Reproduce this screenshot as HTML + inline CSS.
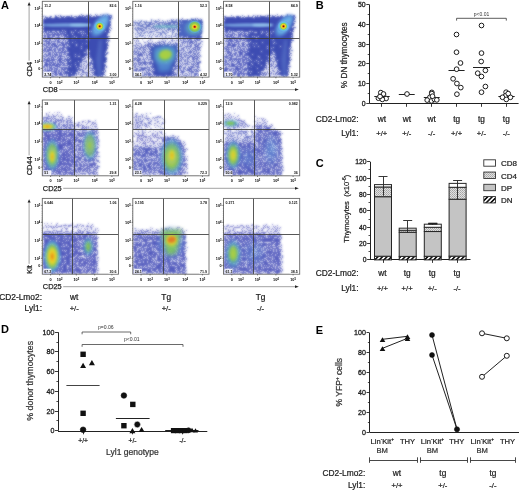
<!DOCTYPE html>
<html><head><meta charset="utf-8"><style>
html,body{margin:0;padding:0;background:#fff;}
svg{display:block;font-family:"Liberation Sans", sans-serif;will-change:transform;}
</style></head><body>
<svg width="520" height="490" viewBox="0 0 520 490">
<defs>
<filter id="bl0_3" x="-50%" y="-50%" width="200%" height="200%"><feGaussianBlur stdDeviation="0.3"/></filter><filter id="bl0_4" x="-50%" y="-50%" width="200%" height="200%"><feGaussianBlur stdDeviation="0.4"/></filter><filter id="bl0_6" x="-50%" y="-50%" width="200%" height="200%"><feGaussianBlur stdDeviation="0.6"/></filter><filter id="bl0_8" x="-50%" y="-50%" width="200%" height="200%"><feGaussianBlur stdDeviation="0.8"/></filter><filter id="bl1" x="-50%" y="-50%" width="200%" height="200%"><feGaussianBlur stdDeviation="1"/></filter><filter id="bl1_2" x="-50%" y="-50%" width="200%" height="200%"><feGaussianBlur stdDeviation="1.2"/></filter><filter id="bl1_5" x="-50%" y="-50%" width="200%" height="200%"><feGaussianBlur stdDeviation="1.5"/></filter><filter id="bl2" x="-50%" y="-50%" width="200%" height="200%"><feGaussianBlur stdDeviation="2"/></filter><filter id="bl2_5" x="-50%" y="-50%" width="200%" height="200%"><feGaussianBlur stdDeviation="2.5"/></filter><filter id="bl3" x="-50%" y="-50%" width="200%" height="200%"><feGaussianBlur stdDeviation="3"/></filter><filter id="bl4" x="-50%" y="-50%" width="200%" height="200%"><feGaussianBlur stdDeviation="4"/></filter><radialGradient id="g_hot"><stop offset="0" stop-color="#4a0c06" stop-opacity="1"/><stop offset="0.1" stop-color="#b83012" stop-opacity="1"/><stop offset="0.22" stop-color="#eab01c" stop-opacity="1"/><stop offset="0.32" stop-color="#f0d628" stop-opacity="1"/><stop offset="0.46" stop-color="#9ccc48" stop-opacity="1"/><stop offset="0.62" stop-color="#62c8d8" stop-opacity="1"/><stop offset="0.82" stop-color="#6aa8e8" stop-opacity="0.7"/><stop offset="1" stop-color="#5a80d8" stop-opacity="0"/></radialGradient><radialGradient id="g_hot2"><stop offset="0" stop-color="#7a1408" stop-opacity="1"/><stop offset="0.1" stop-color="#d8401a" stop-opacity="1"/><stop offset="0.22" stop-color="#f0c020" stop-opacity="1"/><stop offset="0.36" stop-color="#c8d830" stop-opacity="1"/><stop offset="0.55" stop-color="#7cc458" stop-opacity="1"/><stop offset="0.78" stop-color="#5ab0d8" stop-opacity="0.8"/><stop offset="1" stop-color="#5a80d0" stop-opacity="0"/></radialGradient><radialGradient id="g_hotg"><stop offset="0" stop-color="#6a1008" stop-opacity="1"/><stop offset="0.12" stop-color="#d04018" stop-opacity="1"/><stop offset="0.22" stop-color="#f0c020" stop-opacity="1"/><stop offset="0.32" stop-color="#d8d830" stop-opacity="1"/><stop offset="0.42" stop-color="#a0cc48" stop-opacity="1"/><stop offset="0.62" stop-color="#80c458" stop-opacity="1"/><stop offset="0.8" stop-color="#5ab0d8" stop-opacity="0.8"/><stop offset="1" stop-color="#5a80d0" stop-opacity="0"/></radialGradient><radialGradient id="g_org"><stop offset="0" stop-color="#e07a1a" stop-opacity="1"/><stop offset="0.18" stop-color="#eeb820" stop-opacity="1"/><stop offset="0.36" stop-color="#e0d830" stop-opacity="1"/><stop offset="0.55" stop-color="#8cc850" stop-opacity="0.95"/><stop offset="0.78" stop-color="#5ab8d8" stop-opacity="0.7"/><stop offset="1" stop-color="#5a80d0" stop-opacity="0"/></radialGradient><radialGradient id="g_yel"><stop offset="0" stop-color="#e2c82c" stop-opacity="1"/><stop offset="0.25" stop-color="#c4d43c" stop-opacity="1"/><stop offset="0.5" stop-color="#7cc060" stop-opacity="0.95"/><stop offset="0.75" stop-color="#5aa8d0" stop-opacity="0.65"/><stop offset="1" stop-color="#5a80d0" stop-opacity="0"/></radialGradient><radialGradient id="g_grn"><stop offset="0" stop-color="#98cc4a" stop-opacity="1"/><stop offset="0.3" stop-color="#70c060" stop-opacity="0.95"/><stop offset="0.6" stop-color="#5aacc8" stop-opacity="0.7"/><stop offset="1" stop-color="#5a80d0" stop-opacity="0"/></radialGradient><radialGradient id="g_cyan"><stop offset="0" stop-color="#8ce0f6" stop-opacity="1"/><stop offset="0.45" stop-color="#72c8f0" stop-opacity="0.95"/><stop offset="0.75" stop-color="#5e9ce0" stop-opacity="0.6"/><stop offset="1" stop-color="#5a78d4" stop-opacity="0"/></radialGradient><radialGradient id="g_lcyan"><stop offset="0" stop-color="#70c8f0" stop-opacity="0.9"/><stop offset="0.6" stop-color="#6aa0e0" stop-opacity="0.6"/><stop offset="1" stop-color="#5a78d4" stop-opacity="0"/></radialGradient><radialGradient id="g_cov"><stop offset="0" stop-color="#ffffff" stop-opacity="1"/><stop offset="0.3" stop-color="#ffffff" stop-opacity="0.92"/><stop offset="0.55" stop-color="#ffffff" stop-opacity="0.72"/><stop offset="0.75" stop-color="#ffffff" stop-opacity="0.45"/><stop offset="0.9" stop-color="#ffffff" stop-opacity="0.18"/><stop offset="1" stop-color="#ffffff" stop-opacity="0"/></radialGradient><clipPath id="clip00"><rect x="42.3" y="1.3" width="76.2" height="75.8"/></clipPath><filter id="spk0" filterUnits="userSpaceOnUse" x="42.3" y="1.3" width="76.2" height="75.8" color-interpolation-filters="sRGB">
<feTurbulence type="fractalNoise" baseFrequency="0.8" numOctaves="2" seed="3" result="noise"/>
<feColorMatrix in="noise" type="matrix" values="0 0 0 0 0  0 0 0 0 0  0 0 0 0 0  1 0 0 0 0" result="nA"/>
<feComponentTransfer in="SourceAlpha" result="sa"><feFuncA type="table" tableValues="0 0.345 0.400 0.439 0.475 0.502 0.525 0.561 0.600 0.655 0.92"/></feComponentTransfer>
<feComposite in="sa" in2="nA" operator="arithmetic" k1="0" k2="1" k3="-1" k4="0" result="d"/>
<feComponentTransfer in="d" result="m"><feFuncA type="linear" slope="40" intercept="0"/></feComponentTransfer>
<feColorMatrix in="SourceGraphic" type="matrix" values="1 0 0 0 0  0 1 0 0 0  0 0 1 0 0  0 0 0 0 1" result="op"/>
<feComposite in="op" in2="m" operator="in" result="dots"/>
<feGaussianBlur in="dots" stdDeviation="0.8" result="bd"/>
<feComposite in="dots" in2="bd" operator="arithmetic" k1="0" k2="0.15" k3="0.85" k4="0"/>
</filter><clipPath id="clip01"><rect x="132.8" y="1.3" width="76.2" height="75.8"/></clipPath><linearGradient id="lg1" gradientUnits="userSpaceOnUse" x1="132.8" y1="0" x2="178.7" y2="0"><stop offset="0" stop-color="#5062bc" stop-opacity="0.5"/><stop offset="1" stop-color="#5062bc" stop-opacity="0.8"/></linearGradient><linearGradient id="lg2" gradientUnits="userSpaceOnUse" x1="178.7" y1="0" x2="200" y2="0"><stop offset="0" stop-color="#4a56ba" stop-opacity="0.45"/><stop offset="1" stop-color="#4a56ba" stop-opacity="0.7"/></linearGradient><radialGradient id="cv1"><stop offset="0" stop-color="#4a56ba" stop-opacity="0.700"/><stop offset="0.3" stop-color="#4a56ba" stop-opacity="0.644"/><stop offset="0.55" stop-color="#4a56ba" stop-opacity="0.504"/><stop offset="0.75" stop-color="#4a56ba" stop-opacity="0.315"/><stop offset="0.9" stop-color="#4a56ba" stop-opacity="0.126"/><stop offset="1" stop-color="#4a56ba" stop-opacity="0.000"/></radialGradient><filter id="spk1" filterUnits="userSpaceOnUse" x="132.8" y="1.3" width="76.2" height="75.8" color-interpolation-filters="sRGB">
<feTurbulence type="fractalNoise" baseFrequency="0.8" numOctaves="2" seed="10" result="noise"/>
<feColorMatrix in="noise" type="matrix" values="0 0 0 0 0  0 0 0 0 0  0 0 0 0 0  1 0 0 0 0" result="nA"/>
<feComponentTransfer in="SourceAlpha" result="sa"><feFuncA type="table" tableValues="0 0.345 0.400 0.439 0.475 0.502 0.525 0.561 0.600 0.655 0.92"/></feComponentTransfer>
<feComposite in="sa" in2="nA" operator="arithmetic" k1="0" k2="1" k3="-1" k4="0" result="d"/>
<feComponentTransfer in="d" result="m"><feFuncA type="linear" slope="40" intercept="0"/></feComponentTransfer>
<feColorMatrix in="SourceGraphic" type="matrix" values="1 0 0 0 0  0 1 0 0 0  0 0 1 0 0  0 0 0 0 1" result="op"/>
<feComposite in="op" in2="m" operator="in" result="dots"/>
<feGaussianBlur in="dots" stdDeviation="0.8" result="bd"/>
<feComposite in="dots" in2="bd" operator="arithmetic" k1="0" k2="0.15" k3="0.85" k4="0"/>
</filter><clipPath id="clip02"><rect x="223.5" y="1.3" width="76.2" height="75.8"/></clipPath><filter id="spk2" filterUnits="userSpaceOnUse" x="223.5" y="1.3" width="76.2" height="75.8" color-interpolation-filters="sRGB">
<feTurbulence type="fractalNoise" baseFrequency="0.8" numOctaves="2" seed="17" result="noise"/>
<feColorMatrix in="noise" type="matrix" values="0 0 0 0 0  0 0 0 0 0  0 0 0 0 0  1 0 0 0 0" result="nA"/>
<feComponentTransfer in="SourceAlpha" result="sa"><feFuncA type="table" tableValues="0 0.345 0.400 0.439 0.475 0.502 0.525 0.561 0.600 0.655 0.92"/></feComponentTransfer>
<feComposite in="sa" in2="nA" operator="arithmetic" k1="0" k2="1" k3="-1" k4="0" result="d"/>
<feComponentTransfer in="d" result="m"><feFuncA type="linear" slope="40" intercept="0"/></feComponentTransfer>
<feColorMatrix in="SourceGraphic" type="matrix" values="1 0 0 0 0  0 1 0 0 0  0 0 1 0 0  0 0 0 0 1" result="op"/>
<feComposite in="op" in2="m" operator="in" result="dots"/>
<feGaussianBlur in="dots" stdDeviation="0.8" result="bd"/>
<feComposite in="dots" in2="bd" operator="arithmetic" k1="0" k2="0.15" k3="0.85" k4="0"/>
</filter><clipPath id="clip10"><rect x="42.3" y="100.0" width="76.2" height="75.8"/></clipPath><linearGradient id="lg3" gradientUnits="userSpaceOnUse" x1="0" y1="113" x2="0" y2="129"><stop offset="0" stop-color="#545cbe" stop-opacity="0.35"/><stop offset="1" stop-color="#545cbe" stop-opacity="0.7"/></linearGradient><filter id="spk3" filterUnits="userSpaceOnUse" x="42.3" y="100.0" width="76.2" height="75.8" color-interpolation-filters="sRGB">
<feTurbulence type="fractalNoise" baseFrequency="0.8" numOctaves="2" seed="24" result="noise"/>
<feColorMatrix in="noise" type="matrix" values="0 0 0 0 0  0 0 0 0 0  0 0 0 0 0  1 0 0 0 0" result="nA"/>
<feComponentTransfer in="SourceAlpha" result="sa"><feFuncA type="table" tableValues="0 0.345 0.400 0.439 0.475 0.502 0.525 0.561 0.600 0.655 0.92"/></feComponentTransfer>
<feComposite in="sa" in2="nA" operator="arithmetic" k1="0" k2="1" k3="-1" k4="0" result="d"/>
<feComponentTransfer in="d" result="m"><feFuncA type="linear" slope="40" intercept="0"/></feComponentTransfer>
<feColorMatrix in="SourceGraphic" type="matrix" values="1 0 0 0 0  0 1 0 0 0  0 0 1 0 0  0 0 0 0 1" result="op"/>
<feComposite in="op" in2="m" operator="in" result="dots"/>
<feGaussianBlur in="dots" stdDeviation="0.8" result="bd"/>
<feComposite in="dots" in2="bd" operator="arithmetic" k1="0" k2="0.15" k3="0.85" k4="0"/>
</filter><clipPath id="clip11"><rect x="132.8" y="100.0" width="76.2" height="75.8"/></clipPath><linearGradient id="lg4" gradientUnits="userSpaceOnUse" x1="132.8" y1="0" x2="168" y2="0"><stop offset="0" stop-color="#545cbe" stop-opacity="0.55"/><stop offset="1" stop-color="#545cbe" stop-opacity="0.2"/></linearGradient><filter id="spk4" filterUnits="userSpaceOnUse" x="132.8" y="100.0" width="76.2" height="75.8" color-interpolation-filters="sRGB">
<feTurbulence type="fractalNoise" baseFrequency="0.8" numOctaves="2" seed="31" result="noise"/>
<feColorMatrix in="noise" type="matrix" values="0 0 0 0 0  0 0 0 0 0  0 0 0 0 0  1 0 0 0 0" result="nA"/>
<feComponentTransfer in="SourceAlpha" result="sa"><feFuncA type="table" tableValues="0 0.345 0.400 0.439 0.475 0.502 0.525 0.561 0.600 0.655 0.92"/></feComponentTransfer>
<feComposite in="sa" in2="nA" operator="arithmetic" k1="0" k2="1" k3="-1" k4="0" result="d"/>
<feComponentTransfer in="d" result="m"><feFuncA type="linear" slope="40" intercept="0"/></feComponentTransfer>
<feColorMatrix in="SourceGraphic" type="matrix" values="1 0 0 0 0  0 1 0 0 0  0 0 1 0 0  0 0 0 0 1" result="op"/>
<feComposite in="op" in2="m" operator="in" result="dots"/>
<feGaussianBlur in="dots" stdDeviation="0.8" result="bd"/>
<feComposite in="dots" in2="bd" operator="arithmetic" k1="0" k2="0.15" k3="0.85" k4="0"/>
</filter><clipPath id="clip12"><rect x="223.5" y="100.0" width="76.2" height="75.8"/></clipPath><linearGradient id="lg5" gradientUnits="userSpaceOnUse" x1="0" y1="113" x2="0" y2="128"><stop offset="0" stop-color="#545cbe" stop-opacity="0.3"/><stop offset="1" stop-color="#545cbe" stop-opacity="0.6"/></linearGradient><filter id="spk5" filterUnits="userSpaceOnUse" x="223.5" y="100.0" width="76.2" height="75.8" color-interpolation-filters="sRGB">
<feTurbulence type="fractalNoise" baseFrequency="0.8" numOctaves="2" seed="38" result="noise"/>
<feColorMatrix in="noise" type="matrix" values="0 0 0 0 0  0 0 0 0 0  0 0 0 0 0  1 0 0 0 0" result="nA"/>
<feComponentTransfer in="SourceAlpha" result="sa"><feFuncA type="table" tableValues="0 0.345 0.400 0.439 0.475 0.502 0.525 0.561 0.600 0.655 0.92"/></feComponentTransfer>
<feComposite in="sa" in2="nA" operator="arithmetic" k1="0" k2="1" k3="-1" k4="0" result="d"/>
<feComponentTransfer in="d" result="m"><feFuncA type="linear" slope="40" intercept="0"/></feComponentTransfer>
<feColorMatrix in="SourceGraphic" type="matrix" values="1 0 0 0 0  0 1 0 0 0  0 0 1 0 0  0 0 0 0 1" result="op"/>
<feComposite in="op" in2="m" operator="in" result="dots"/>
<feGaussianBlur in="dots" stdDeviation="0.8" result="bd"/>
<feComposite in="dots" in2="bd" operator="arithmetic" k1="0" k2="0.15" k3="0.85" k4="0"/>
</filter><clipPath id="clip20"><rect x="42.3" y="198.4" width="76.2" height="75.8"/></clipPath><filter id="spk6" filterUnits="userSpaceOnUse" x="42.3" y="198.4" width="76.2" height="75.8" color-interpolation-filters="sRGB">
<feTurbulence type="fractalNoise" baseFrequency="0.8" numOctaves="2" seed="45" result="noise"/>
<feColorMatrix in="noise" type="matrix" values="0 0 0 0 0  0 0 0 0 0  0 0 0 0 0  1 0 0 0 0" result="nA"/>
<feComponentTransfer in="SourceAlpha" result="sa"><feFuncA type="table" tableValues="0 0.345 0.400 0.439 0.475 0.502 0.525 0.561 0.600 0.655 0.92"/></feComponentTransfer>
<feComposite in="sa" in2="nA" operator="arithmetic" k1="0" k2="1" k3="-1" k4="0" result="d"/>
<feComponentTransfer in="d" result="m"><feFuncA type="linear" slope="40" intercept="0"/></feComponentTransfer>
<feColorMatrix in="SourceGraphic" type="matrix" values="1 0 0 0 0  0 1 0 0 0  0 0 1 0 0  0 0 0 0 1" result="op"/>
<feComposite in="op" in2="m" operator="in" result="dots"/>
<feGaussianBlur in="dots" stdDeviation="0.8" result="bd"/>
<feComposite in="dots" in2="bd" operator="arithmetic" k1="0" k2="0.15" k3="0.85" k4="0"/>
</filter><clipPath id="clip21"><rect x="132.8" y="198.4" width="76.2" height="75.8"/></clipPath><filter id="spk7" filterUnits="userSpaceOnUse" x="132.8" y="198.4" width="76.2" height="75.8" color-interpolation-filters="sRGB">
<feTurbulence type="fractalNoise" baseFrequency="0.8" numOctaves="2" seed="52" result="noise"/>
<feColorMatrix in="noise" type="matrix" values="0 0 0 0 0  0 0 0 0 0  0 0 0 0 0  1 0 0 0 0" result="nA"/>
<feComponentTransfer in="SourceAlpha" result="sa"><feFuncA type="table" tableValues="0 0.345 0.400 0.439 0.475 0.502 0.525 0.561 0.600 0.655 0.92"/></feComponentTransfer>
<feComposite in="sa" in2="nA" operator="arithmetic" k1="0" k2="1" k3="-1" k4="0" result="d"/>
<feComponentTransfer in="d" result="m"><feFuncA type="linear" slope="40" intercept="0"/></feComponentTransfer>
<feColorMatrix in="SourceGraphic" type="matrix" values="1 0 0 0 0  0 1 0 0 0  0 0 1 0 0  0 0 0 0 1" result="op"/>
<feComposite in="op" in2="m" operator="in" result="dots"/>
<feGaussianBlur in="dots" stdDeviation="0.8" result="bd"/>
<feComposite in="dots" in2="bd" operator="arithmetic" k1="0" k2="0.15" k3="0.85" k4="0"/>
</filter><clipPath id="clip22"><rect x="223.5" y="198.4" width="76.2" height="75.8"/></clipPath><filter id="spk8" filterUnits="userSpaceOnUse" x="223.5" y="198.4" width="76.2" height="75.8" color-interpolation-filters="sRGB">
<feTurbulence type="fractalNoise" baseFrequency="0.8" numOctaves="2" seed="59" result="noise"/>
<feColorMatrix in="noise" type="matrix" values="0 0 0 0 0  0 0 0 0 0  0 0 0 0 0  1 0 0 0 0" result="nA"/>
<feComponentTransfer in="SourceAlpha" result="sa"><feFuncA type="table" tableValues="0 0.345 0.400 0.439 0.475 0.502 0.525 0.561 0.600 0.655 0.92"/></feComponentTransfer>
<feComposite in="sa" in2="nA" operator="arithmetic" k1="0" k2="1" k3="-1" k4="0" result="d"/>
<feComponentTransfer in="d" result="m"><feFuncA type="linear" slope="40" intercept="0"/></feComponentTransfer>
<feColorMatrix in="SourceGraphic" type="matrix" values="1 0 0 0 0  0 1 0 0 0  0 0 1 0 0  0 0 0 0 1" result="op"/>
<feComposite in="op" in2="m" operator="in" result="dots"/>
<feGaussianBlur in="dots" stdDeviation="0.8" result="bd"/>
<feComposite in="dots" in2="bd" operator="arithmetic" k1="0" k2="0.15" k3="0.85" k4="0"/>
</filter><pattern id="hatch" patternUnits="userSpaceOnUse" width="3.2" height="3.2" patternTransform="rotate(45)"><rect width="3.2" height="3.2" fill="#fff"/><rect width="1.6" height="3.2" fill="#111"/></pattern><pattern id="stip" patternUnits="userSpaceOnUse" width="2" height="2"><rect width="2" height="2" fill="#e0e0e0"/><rect width="1" height="1" fill="#a4a4a4"/><rect x="1" y="1" width="1" height="1" fill="#b4b4b4"/></pattern>
</defs>
<rect width="520" height="490" fill="#fff"/>
<text x="1.00" y="8.90" font-size="11" text-anchor="start" font-weight="bold" fill="#000" >A</text>
<text x="315.80" y="9.00" font-size="11" text-anchor="start" font-weight="bold" fill="#000" >B</text>
<text x="315.80" y="167.20" font-size="11" text-anchor="start" font-weight="bold" fill="#000" >C</text>
<text x="1.00" y="333.00" font-size="11" text-anchor="start" font-weight="bold" fill="#000" >D</text>
<text x="315.80" y="334.00" font-size="11" text-anchor="start" font-weight="bold" fill="#000" >E</text>
<g clip-path="url(#clip00)">
<g filter="url(#spk0)"><g filter="url(#bl0_8)"><polygon points="42.3,17.1 111.5,14.9 109.8,31.3 42.3,31.3" fill="#3c4cb2" fill-opacity="1.0"/><polygon points="42.3,31.3 66.0,31.3 68.0,51.0 66.0,77.1 42.3,77.1" fill="#4a56ba" fill-opacity="0.7"/><polygon points="66.0,31.3 89.0,31.3 88.0,50.0 75.0,77.1 66.0,77.1 68.0,51.0" fill="#3c4cb2" fill-opacity="0.92"/><polygon points="88.0,50.0 91.0,60.0 95.0,77.1 75.0,77.1" fill="#4a56ba" fill-opacity="0.5"/><polygon points="89.0,31.3 109.8,31.3 108.7,38.0 104.5,77.1 95.0,77.1 91.0,60.0 88.0,50.0" fill="#3c4cb2" fill-opacity="0.97"/></g></g><ellipse cx="66.3" cy="25.1" rx="25" ry="1.5" fill="#86b8ec" fill-opacity="0.85" filter="url(#bl0_8)"/><ellipse cx="80.3" cy="24.9" rx="11" ry="1.4" fill="#a0d4f2" fill-opacity="0.75" filter="url(#bl0_8)"/><polygon points="96.0,60.0 99.0,40.0 102.0,40.0 101.0,77.0 98.0,77.0" fill="#6a90d8" fill-opacity="0.35" filter="url(#bl1_5)"/><ellipse cx="100.3" cy="25.6" rx="15" ry="8.0" fill="url(#g_cyan)" opacity="1" transform="rotate(-55 100.3 25.6)" filter="url(#bl0_8)"/><ellipse cx="100.6" cy="25.0" rx="9" ry="5.0" fill="url(#g_cyan)" opacity="0.9" transform="rotate(-55 100.6 25.0)" filter="url(#bl0_6)"/><ellipse cx="104.8" cy="19.5" rx="7" ry="4" fill="url(#g_lcyan)" opacity="0.8" transform="rotate(-50 104.8 19.5)" filter="url(#bl0_8)"/><ellipse cx="99.7" cy="26.3" rx="6.4" ry="6.2" fill="url(#g_hot)" opacity="1" filter="url(#bl0_3)"/>
</g>
<line x1="88.50" y1="1.30" x2="88.50" y2="77.10" stroke="#3a3a3a" stroke-width="0.85" />
<line x1="42.30" y1="38.50" x2="118.50" y2="38.50" stroke="#3a3a3a" stroke-width="0.85" />
<rect x="42.3" y="1.3" width="76.2" height="75.8" fill="none" stroke="#666" stroke-width="0.9"/>
<text x="44.30" y="6.50" font-size="3.6" text-anchor="start" font-weight="bold" fill="#111" >11.2</text>
<text x="116.50" y="6.50" font-size="3.6" text-anchor="end" font-weight="bold" fill="#111" >82.6</text>
<rect x="43.3" y="71.6" width="8" height="4.8" fill="#fff" opacity="0.85"/>
<text x="44.30" y="75.50" font-size="3.6" text-anchor="start" font-weight="bold" fill="#111" >2.74</text>
<rect x="108.5" y="71.6" width="9" height="4.8" fill="#fff" opacity="0.85"/>
<text x="116.50" y="75.50" font-size="3.6" text-anchor="end" font-weight="bold" fill="#111" >3.00</text>
<text x="40.30" y="9.70" font-size="3.8" text-anchor="end" font-weight="bold" fill="#000" >10<tspan dy="-1.2" font-size="2.7">5</tspan></text>
<line x1="41.10" y1="8.30" x2="42.30" y2="8.30" stroke="#333" stroke-width="0.6" />
<text x="40.30" y="26.70" font-size="3.8" text-anchor="end" font-weight="bold" fill="#000" >10<tspan dy="-1.2" font-size="2.7">4</tspan></text>
<line x1="41.10" y1="25.30" x2="42.30" y2="25.30" stroke="#333" stroke-width="0.6" />
<text x="40.30" y="44.70" font-size="3.8" text-anchor="end" font-weight="bold" fill="#000" >10<tspan dy="-1.2" font-size="2.7">3</tspan></text>
<line x1="41.10" y1="43.30" x2="42.30" y2="43.30" stroke="#333" stroke-width="0.6" />
<text x="40.30" y="62.70" font-size="3.8" text-anchor="end" font-weight="bold" fill="#000" >10<tspan dy="-1.2" font-size="2.7">2</tspan></text>
<line x1="41.10" y1="61.30" x2="42.30" y2="61.30" stroke="#333" stroke-width="0.6" />
<text x="40.30" y="69.90" font-size="3.8" text-anchor="end" font-weight="bold" fill="#000" >0</text>
<line x1="41.10" y1="68.50" x2="42.30" y2="68.50" stroke="#333" stroke-width="0.6" />
<line x1="41.60" y1="11.30" x2="42.30" y2="11.30" stroke="#555" stroke-width="0.4" />
<line x1="41.60" y1="14.30" x2="42.30" y2="14.30" stroke="#555" stroke-width="0.4" />
<line x1="41.60" y1="16.30" x2="42.30" y2="16.30" stroke="#555" stroke-width="0.4" />
<line x1="41.60" y1="18.30" x2="42.30" y2="18.30" stroke="#555" stroke-width="0.4" />
<line x1="41.60" y1="20.30" x2="42.30" y2="20.30" stroke="#555" stroke-width="0.4" />
<line x1="41.60" y1="21.80" x2="42.30" y2="21.80" stroke="#555" stroke-width="0.4" />
<line x1="41.60" y1="22.80" x2="42.30" y2="22.80" stroke="#555" stroke-width="0.4" />
<line x1="41.60" y1="23.80" x2="42.30" y2="23.80" stroke="#555" stroke-width="0.4" />
<line x1="41.60" y1="24.60" x2="42.30" y2="24.60" stroke="#555" stroke-width="0.4" />
<line x1="41.60" y1="28.30" x2="42.30" y2="28.30" stroke="#555" stroke-width="0.4" />
<line x1="41.60" y1="31.30" x2="42.30" y2="31.30" stroke="#555" stroke-width="0.4" />
<line x1="41.60" y1="33.30" x2="42.30" y2="33.30" stroke="#555" stroke-width="0.4" />
<line x1="41.60" y1="35.30" x2="42.30" y2="35.30" stroke="#555" stroke-width="0.4" />
<line x1="41.60" y1="37.30" x2="42.30" y2="37.30" stroke="#555" stroke-width="0.4" />
<line x1="41.60" y1="38.80" x2="42.30" y2="38.80" stroke="#555" stroke-width="0.4" />
<line x1="41.60" y1="39.80" x2="42.30" y2="39.80" stroke="#555" stroke-width="0.4" />
<line x1="41.60" y1="40.80" x2="42.30" y2="40.80" stroke="#555" stroke-width="0.4" />
<line x1="41.60" y1="41.80" x2="42.30" y2="41.80" stroke="#555" stroke-width="0.4" />
<line x1="41.60" y1="42.60" x2="42.30" y2="42.60" stroke="#555" stroke-width="0.4" />
<line x1="41.60" y1="46.30" x2="42.30" y2="46.30" stroke="#555" stroke-width="0.4" />
<line x1="41.60" y1="49.30" x2="42.30" y2="49.30" stroke="#555" stroke-width="0.4" />
<line x1="41.60" y1="51.30" x2="42.30" y2="51.30" stroke="#555" stroke-width="0.4" />
<line x1="41.60" y1="53.30" x2="42.30" y2="53.30" stroke="#555" stroke-width="0.4" />
<line x1="41.60" y1="55.30" x2="42.30" y2="55.30" stroke="#555" stroke-width="0.4" />
<line x1="41.60" y1="56.80" x2="42.30" y2="56.80" stroke="#555" stroke-width="0.4" />
<line x1="41.60" y1="57.80" x2="42.30" y2="57.80" stroke="#555" stroke-width="0.4" />
<line x1="41.60" y1="58.80" x2="42.30" y2="58.80" stroke="#555" stroke-width="0.4" />
<line x1="41.60" y1="59.80" x2="42.30" y2="59.80" stroke="#555" stroke-width="0.4" />
<line x1="41.60" y1="60.60" x2="42.30" y2="60.60" stroke="#555" stroke-width="0.4" />
<line x1="41.60" y1="63.30" x2="42.30" y2="63.30" stroke="#555" stroke-width="0.4" />
<line x1="41.60" y1="65.30" x2="42.30" y2="65.30" stroke="#555" stroke-width="0.4" />
<line x1="41.60" y1="67.30" x2="42.30" y2="67.30" stroke="#555" stroke-width="0.4" />
<text x="50.60" y="83.70" font-size="3.8" text-anchor="middle" font-weight="bold" fill="#000" >0</text>
<line x1="50.60" y1="77.10" x2="50.60" y2="78.30" stroke="#333" stroke-width="0.6" />
<text x="59.60" y="83.70" font-size="3.8" text-anchor="middle" font-weight="bold" fill="#000" >10<tspan dy="-1.2" font-size="2.7">2</tspan></text>
<line x1="59.60" y1="77.10" x2="59.60" y2="78.30" stroke="#333" stroke-width="0.6" />
<text x="76.30" y="83.70" font-size="3.8" text-anchor="middle" font-weight="bold" fill="#000" >10<tspan dy="-1.2" font-size="2.7">3</tspan></text>
<line x1="76.30" y1="77.10" x2="76.30" y2="78.30" stroke="#333" stroke-width="0.6" />
<text x="94.70" y="83.70" font-size="3.8" text-anchor="middle" font-weight="bold" fill="#000" >10<tspan dy="-1.2" font-size="2.7">4</tspan></text>
<line x1="94.70" y1="77.10" x2="94.70" y2="78.30" stroke="#333" stroke-width="0.6" />
<text x="111.90" y="83.70" font-size="3.8" text-anchor="middle" font-weight="bold" fill="#000" >10<tspan dy="-1.2" font-size="2.7">5</tspan></text>
<line x1="111.90" y1="77.10" x2="111.90" y2="78.30" stroke="#333" stroke-width="0.6" />
<g clip-path="url(#clip01)">
<g filter="url(#spk1)"><g filter="url(#bl1)"><polygon points="132.8,21.0 178.7,19.8 178.7,30.0 132.8,31.0" fill="url(#lg1)" fill-opacity="1"/><polygon points="132.8,31.0 178.7,30.0 178.7,38.0 132.8,38.5" fill="#5062bc" fill-opacity="0.38"/><polygon points="178.7,19.8 202.7,19.6 201.5,38.0 178.7,38.0" fill="#3c4cb2" fill-opacity="0.95"/><polygon points="132.8,38.5 178.7,38.0 178.7,45.0 132.8,46.0" fill="#4a56ba" fill-opacity="0.25"/><polygon points="132.8,46.0 150.0,44.0 178.7,45.0 178.7,77.1 132.8,77.1" fill="#4a56ba" fill-opacity="0.62"/><polygon points="178.7,38.0 201.5,38.0 199.5,77.1 178.7,77.1" fill="url(#lg2)" fill-opacity="1"/><ellipse cx="165" cy="57" rx="16" ry="18" fill="url(#cv1)" transform="rotate(-15 165 57)"/><polygon points="149.0,46.0 178.7,44.5 172.0,77.1 155.0,77.1" fill="#3c4cb2" fill-opacity="0.92"/></g></g><ellipse cx="166" cy="26.6" rx="13" ry="1.4" fill="#72c4c8" fill-opacity="0.75" filter="url(#bl0_8)"/><polygon points="179.5,21.0 202.0,20.2 201.0,36.5 179.5,36.5" fill="#5a7cd0" fill-opacity="0.5" filter="url(#bl1)"/><ellipse cx="193.5" cy="28.0" rx="11" ry="9.5" fill="url(#g_grn)" opacity="0.9" filter="url(#bl0_8)"/><ellipse cx="194.7" cy="26.8" rx="7.5" ry="7" fill="url(#g_hotg)" opacity="1" filter="url(#bl0_4)"/><polygon points="153.0,47.5 177.0,46.0 170.0,71.0 159.0,72.0" fill="#5ca8e0" fill-opacity="0.6" filter="url(#bl2)"/><ellipse cx="165.0" cy="55.5" rx="14" ry="11.5" fill="url(#g_grn)" opacity="1" transform="rotate(-10 165.0 55.5)" filter="url(#bl0_8)"/><ellipse cx="165.6" cy="54.5" rx="6" ry="4.5" fill="#b0d23e" fill-opacity="0.8" transform="rotate(-10 165.6 54.5)" filter="url(#bl1_2)"/>
</g>
<line x1="178.50" y1="1.30" x2="178.50" y2="77.10" stroke="#3a3a3a" stroke-width="0.85" />
<line x1="132.80" y1="38.50" x2="209.00" y2="38.50" stroke="#3a3a3a" stroke-width="0.85" />
<rect x="132.8" y="1.3" width="76.2" height="75.8" fill="none" stroke="#666" stroke-width="0.9"/>
<text x="134.80" y="6.50" font-size="3.6" text-anchor="start" font-weight="bold" fill="#111" >1.16</text>
<text x="207.00" y="6.50" font-size="3.6" text-anchor="end" font-weight="bold" fill="#111" >52.3</text>
<rect x="133.8" y="71.6" width="8" height="4.8" fill="#fff" opacity="0.85"/>
<text x="134.80" y="75.50" font-size="3.6" text-anchor="start" font-weight="bold" fill="#111" >34.1</text>
<rect x="199.0" y="71.6" width="9" height="4.8" fill="#fff" opacity="0.85"/>
<text x="207.00" y="75.50" font-size="3.6" text-anchor="end" font-weight="bold" fill="#111" >4.32</text>
<text x="130.80" y="9.70" font-size="3.8" text-anchor="end" font-weight="bold" fill="#000" >10<tspan dy="-1.2" font-size="2.7">5</tspan></text>
<line x1="131.60" y1="8.30" x2="132.80" y2="8.30" stroke="#333" stroke-width="0.6" />
<text x="130.80" y="26.70" font-size="3.8" text-anchor="end" font-weight="bold" fill="#000" >10<tspan dy="-1.2" font-size="2.7">4</tspan></text>
<line x1="131.60" y1="25.30" x2="132.80" y2="25.30" stroke="#333" stroke-width="0.6" />
<text x="130.80" y="44.70" font-size="3.8" text-anchor="end" font-weight="bold" fill="#000" >10<tspan dy="-1.2" font-size="2.7">3</tspan></text>
<line x1="131.60" y1="43.30" x2="132.80" y2="43.30" stroke="#333" stroke-width="0.6" />
<text x="130.80" y="62.70" font-size="3.8" text-anchor="end" font-weight="bold" fill="#000" >10<tspan dy="-1.2" font-size="2.7">2</tspan></text>
<line x1="131.60" y1="61.30" x2="132.80" y2="61.30" stroke="#333" stroke-width="0.6" />
<text x="130.80" y="69.90" font-size="3.8" text-anchor="end" font-weight="bold" fill="#000" >0</text>
<line x1="131.60" y1="68.50" x2="132.80" y2="68.50" stroke="#333" stroke-width="0.6" />
<line x1="132.10" y1="11.30" x2="132.80" y2="11.30" stroke="#555" stroke-width="0.4" />
<line x1="132.10" y1="14.30" x2="132.80" y2="14.30" stroke="#555" stroke-width="0.4" />
<line x1="132.10" y1="16.30" x2="132.80" y2="16.30" stroke="#555" stroke-width="0.4" />
<line x1="132.10" y1="18.30" x2="132.80" y2="18.30" stroke="#555" stroke-width="0.4" />
<line x1="132.10" y1="20.30" x2="132.80" y2="20.30" stroke="#555" stroke-width="0.4" />
<line x1="132.10" y1="21.80" x2="132.80" y2="21.80" stroke="#555" stroke-width="0.4" />
<line x1="132.10" y1="22.80" x2="132.80" y2="22.80" stroke="#555" stroke-width="0.4" />
<line x1="132.10" y1="23.80" x2="132.80" y2="23.80" stroke="#555" stroke-width="0.4" />
<line x1="132.10" y1="24.60" x2="132.80" y2="24.60" stroke="#555" stroke-width="0.4" />
<line x1="132.10" y1="28.30" x2="132.80" y2="28.30" stroke="#555" stroke-width="0.4" />
<line x1="132.10" y1="31.30" x2="132.80" y2="31.30" stroke="#555" stroke-width="0.4" />
<line x1="132.10" y1="33.30" x2="132.80" y2="33.30" stroke="#555" stroke-width="0.4" />
<line x1="132.10" y1="35.30" x2="132.80" y2="35.30" stroke="#555" stroke-width="0.4" />
<line x1="132.10" y1="37.30" x2="132.80" y2="37.30" stroke="#555" stroke-width="0.4" />
<line x1="132.10" y1="38.80" x2="132.80" y2="38.80" stroke="#555" stroke-width="0.4" />
<line x1="132.10" y1="39.80" x2="132.80" y2="39.80" stroke="#555" stroke-width="0.4" />
<line x1="132.10" y1="40.80" x2="132.80" y2="40.80" stroke="#555" stroke-width="0.4" />
<line x1="132.10" y1="41.80" x2="132.80" y2="41.80" stroke="#555" stroke-width="0.4" />
<line x1="132.10" y1="42.60" x2="132.80" y2="42.60" stroke="#555" stroke-width="0.4" />
<line x1="132.10" y1="46.30" x2="132.80" y2="46.30" stroke="#555" stroke-width="0.4" />
<line x1="132.10" y1="49.30" x2="132.80" y2="49.30" stroke="#555" stroke-width="0.4" />
<line x1="132.10" y1="51.30" x2="132.80" y2="51.30" stroke="#555" stroke-width="0.4" />
<line x1="132.10" y1="53.30" x2="132.80" y2="53.30" stroke="#555" stroke-width="0.4" />
<line x1="132.10" y1="55.30" x2="132.80" y2="55.30" stroke="#555" stroke-width="0.4" />
<line x1="132.10" y1="56.80" x2="132.80" y2="56.80" stroke="#555" stroke-width="0.4" />
<line x1="132.10" y1="57.80" x2="132.80" y2="57.80" stroke="#555" stroke-width="0.4" />
<line x1="132.10" y1="58.80" x2="132.80" y2="58.80" stroke="#555" stroke-width="0.4" />
<line x1="132.10" y1="59.80" x2="132.80" y2="59.80" stroke="#555" stroke-width="0.4" />
<line x1="132.10" y1="60.60" x2="132.80" y2="60.60" stroke="#555" stroke-width="0.4" />
<line x1="132.10" y1="63.30" x2="132.80" y2="63.30" stroke="#555" stroke-width="0.4" />
<line x1="132.10" y1="65.30" x2="132.80" y2="65.30" stroke="#555" stroke-width="0.4" />
<line x1="132.10" y1="67.30" x2="132.80" y2="67.30" stroke="#555" stroke-width="0.4" />
<text x="141.10" y="83.70" font-size="3.8" text-anchor="middle" font-weight="bold" fill="#000" >0</text>
<line x1="141.10" y1="77.10" x2="141.10" y2="78.30" stroke="#333" stroke-width="0.6" />
<text x="150.10" y="83.70" font-size="3.8" text-anchor="middle" font-weight="bold" fill="#000" >10<tspan dy="-1.2" font-size="2.7">2</tspan></text>
<line x1="150.10" y1="77.10" x2="150.10" y2="78.30" stroke="#333" stroke-width="0.6" />
<text x="166.80" y="83.70" font-size="3.8" text-anchor="middle" font-weight="bold" fill="#000" >10<tspan dy="-1.2" font-size="2.7">3</tspan></text>
<line x1="166.80" y1="77.10" x2="166.80" y2="78.30" stroke="#333" stroke-width="0.6" />
<text x="185.20" y="83.70" font-size="3.8" text-anchor="middle" font-weight="bold" fill="#000" >10<tspan dy="-1.2" font-size="2.7">4</tspan></text>
<line x1="185.20" y1="77.10" x2="185.20" y2="78.30" stroke="#333" stroke-width="0.6" />
<text x="202.40" y="83.70" font-size="3.8" text-anchor="middle" font-weight="bold" fill="#000" >10<tspan dy="-1.2" font-size="2.7">5</tspan></text>
<line x1="202.40" y1="77.10" x2="202.40" y2="78.30" stroke="#333" stroke-width="0.6" />
<g clip-path="url(#clip02)">
<g filter="url(#spk2)"><g filter="url(#bl0_8)"><polygon points="223.5,17.1 295.3,14.9 293.6,31.3 223.5,31.3" fill="#3c4cb2" fill-opacity="1.0"/><polygon points="223.5,31.3 247.2,31.3 249.2,51.0 247.2,77.1 223.5,77.1" fill="#4a56ba" fill-opacity="0.7"/><polygon points="247.2,31.3 274.2,31.3 273.2,50.0 260.2,77.1 247.2,77.1 249.2,51.0" fill="#3c4cb2" fill-opacity="0.92"/><polygon points="273.2,50.0 276.2,60.0 280.2,77.1 260.2,77.1" fill="#4a56ba" fill-opacity="0.5"/><polygon points="274.2,31.3 293.6,31.3 292.5,38.0 288.3,77.1 280.2,77.1 276.2,60.0 273.2,50.0" fill="#3c4cb2" fill-opacity="0.97"/></g></g><ellipse cx="247.5" cy="25.1" rx="25" ry="1.5" fill="#86b8ec" fill-opacity="0.85" filter="url(#bl0_8)"/><ellipse cx="262.8" cy="24.9" rx="11" ry="1.4" fill="#a0d4f2" fill-opacity="0.75" filter="url(#bl0_8)"/><polygon points="281.2,60.0 284.2,40.0 287.2,40.0 286.2,77.0 283.2,77.0" fill="#6a90d8" fill-opacity="0.35" filter="url(#bl1_5)"/><ellipse cx="284.1" cy="25.6" rx="15" ry="8.0" fill="url(#g_cyan)" opacity="1" transform="rotate(-55 284.1 25.6)" filter="url(#bl0_8)"/><ellipse cx="284.4" cy="25.0" rx="9" ry="5.0" fill="url(#g_cyan)" opacity="0.9" transform="rotate(-55 284.4 25.0)" filter="url(#bl0_6)"/><ellipse cx="289.38" cy="19.5" rx="7" ry="4" fill="url(#g_lcyan)" opacity="0.8" transform="rotate(-50 289.38 19.5)" filter="url(#bl0_8)"/><ellipse cx="283.5" cy="26.3" rx="6.4" ry="6.2" fill="url(#g_hot)" opacity="1" filter="url(#bl0_3)"/>
</g>
<line x1="269.50" y1="1.30" x2="269.50" y2="77.10" stroke="#3a3a3a" stroke-width="0.85" />
<line x1="223.50" y1="38.50" x2="299.70" y2="38.50" stroke="#3a3a3a" stroke-width="0.85" />
<rect x="223.5" y="1.3" width="76.2" height="75.8" fill="none" stroke="#666" stroke-width="0.9"/>
<text x="225.50" y="6.50" font-size="3.6" text-anchor="start" font-weight="bold" fill="#111" >8.58</text>
<text x="297.70" y="6.50" font-size="3.6" text-anchor="end" font-weight="bold" fill="#111" >84.9</text>
<rect x="224.5" y="71.6" width="8" height="4.8" fill="#fff" opacity="0.85"/>
<text x="225.50" y="75.50" font-size="3.6" text-anchor="start" font-weight="bold" fill="#111" >1.70</text>
<rect x="289.7" y="71.6" width="9" height="4.8" fill="#fff" opacity="0.85"/>
<text x="297.70" y="75.50" font-size="3.6" text-anchor="end" font-weight="bold" fill="#111" >5.32</text>
<text x="221.50" y="9.70" font-size="3.8" text-anchor="end" font-weight="bold" fill="#000" >10<tspan dy="-1.2" font-size="2.7">5</tspan></text>
<line x1="222.30" y1="8.30" x2="223.50" y2="8.30" stroke="#333" stroke-width="0.6" />
<text x="221.50" y="26.70" font-size="3.8" text-anchor="end" font-weight="bold" fill="#000" >10<tspan dy="-1.2" font-size="2.7">4</tspan></text>
<line x1="222.30" y1="25.30" x2="223.50" y2="25.30" stroke="#333" stroke-width="0.6" />
<text x="221.50" y="44.70" font-size="3.8" text-anchor="end" font-weight="bold" fill="#000" >10<tspan dy="-1.2" font-size="2.7">3</tspan></text>
<line x1="222.30" y1="43.30" x2="223.50" y2="43.30" stroke="#333" stroke-width="0.6" />
<text x="221.50" y="62.70" font-size="3.8" text-anchor="end" font-weight="bold" fill="#000" >10<tspan dy="-1.2" font-size="2.7">2</tspan></text>
<line x1="222.30" y1="61.30" x2="223.50" y2="61.30" stroke="#333" stroke-width="0.6" />
<text x="221.50" y="69.90" font-size="3.8" text-anchor="end" font-weight="bold" fill="#000" >0</text>
<line x1="222.30" y1="68.50" x2="223.50" y2="68.50" stroke="#333" stroke-width="0.6" />
<line x1="222.80" y1="11.30" x2="223.50" y2="11.30" stroke="#555" stroke-width="0.4" />
<line x1="222.80" y1="14.30" x2="223.50" y2="14.30" stroke="#555" stroke-width="0.4" />
<line x1="222.80" y1="16.30" x2="223.50" y2="16.30" stroke="#555" stroke-width="0.4" />
<line x1="222.80" y1="18.30" x2="223.50" y2="18.30" stroke="#555" stroke-width="0.4" />
<line x1="222.80" y1="20.30" x2="223.50" y2="20.30" stroke="#555" stroke-width="0.4" />
<line x1="222.80" y1="21.80" x2="223.50" y2="21.80" stroke="#555" stroke-width="0.4" />
<line x1="222.80" y1="22.80" x2="223.50" y2="22.80" stroke="#555" stroke-width="0.4" />
<line x1="222.80" y1="23.80" x2="223.50" y2="23.80" stroke="#555" stroke-width="0.4" />
<line x1="222.80" y1="24.60" x2="223.50" y2="24.60" stroke="#555" stroke-width="0.4" />
<line x1="222.80" y1="28.30" x2="223.50" y2="28.30" stroke="#555" stroke-width="0.4" />
<line x1="222.80" y1="31.30" x2="223.50" y2="31.30" stroke="#555" stroke-width="0.4" />
<line x1="222.80" y1="33.30" x2="223.50" y2="33.30" stroke="#555" stroke-width="0.4" />
<line x1="222.80" y1="35.30" x2="223.50" y2="35.30" stroke="#555" stroke-width="0.4" />
<line x1="222.80" y1="37.30" x2="223.50" y2="37.30" stroke="#555" stroke-width="0.4" />
<line x1="222.80" y1="38.80" x2="223.50" y2="38.80" stroke="#555" stroke-width="0.4" />
<line x1="222.80" y1="39.80" x2="223.50" y2="39.80" stroke="#555" stroke-width="0.4" />
<line x1="222.80" y1="40.80" x2="223.50" y2="40.80" stroke="#555" stroke-width="0.4" />
<line x1="222.80" y1="41.80" x2="223.50" y2="41.80" stroke="#555" stroke-width="0.4" />
<line x1="222.80" y1="42.60" x2="223.50" y2="42.60" stroke="#555" stroke-width="0.4" />
<line x1="222.80" y1="46.30" x2="223.50" y2="46.30" stroke="#555" stroke-width="0.4" />
<line x1="222.80" y1="49.30" x2="223.50" y2="49.30" stroke="#555" stroke-width="0.4" />
<line x1="222.80" y1="51.30" x2="223.50" y2="51.30" stroke="#555" stroke-width="0.4" />
<line x1="222.80" y1="53.30" x2="223.50" y2="53.30" stroke="#555" stroke-width="0.4" />
<line x1="222.80" y1="55.30" x2="223.50" y2="55.30" stroke="#555" stroke-width="0.4" />
<line x1="222.80" y1="56.80" x2="223.50" y2="56.80" stroke="#555" stroke-width="0.4" />
<line x1="222.80" y1="57.80" x2="223.50" y2="57.80" stroke="#555" stroke-width="0.4" />
<line x1="222.80" y1="58.80" x2="223.50" y2="58.80" stroke="#555" stroke-width="0.4" />
<line x1="222.80" y1="59.80" x2="223.50" y2="59.80" stroke="#555" stroke-width="0.4" />
<line x1="222.80" y1="60.60" x2="223.50" y2="60.60" stroke="#555" stroke-width="0.4" />
<line x1="222.80" y1="63.30" x2="223.50" y2="63.30" stroke="#555" stroke-width="0.4" />
<line x1="222.80" y1="65.30" x2="223.50" y2="65.30" stroke="#555" stroke-width="0.4" />
<line x1="222.80" y1="67.30" x2="223.50" y2="67.30" stroke="#555" stroke-width="0.4" />
<text x="231.80" y="83.70" font-size="3.8" text-anchor="middle" font-weight="bold" fill="#000" >0</text>
<line x1="231.80" y1="77.10" x2="231.80" y2="78.30" stroke="#333" stroke-width="0.6" />
<text x="240.80" y="83.70" font-size="3.8" text-anchor="middle" font-weight="bold" fill="#000" >10<tspan dy="-1.2" font-size="2.7">2</tspan></text>
<line x1="240.80" y1="77.10" x2="240.80" y2="78.30" stroke="#333" stroke-width="0.6" />
<text x="257.50" y="83.70" font-size="3.8" text-anchor="middle" font-weight="bold" fill="#000" >10<tspan dy="-1.2" font-size="2.7">3</tspan></text>
<line x1="257.50" y1="77.10" x2="257.50" y2="78.30" stroke="#333" stroke-width="0.6" />
<text x="275.90" y="83.70" font-size="3.8" text-anchor="middle" font-weight="bold" fill="#000" >10<tspan dy="-1.2" font-size="2.7">4</tspan></text>
<line x1="275.90" y1="77.10" x2="275.90" y2="78.30" stroke="#333" stroke-width="0.6" />
<text x="293.10" y="83.70" font-size="3.8" text-anchor="middle" font-weight="bold" fill="#000" >10<tspan dy="-1.2" font-size="2.7">5</tspan></text>
<line x1="293.10" y1="77.10" x2="293.10" y2="78.30" stroke="#333" stroke-width="0.6" />
<g clip-path="url(#clip10)">
<g filter="url(#spk3)"><g filter="url(#bl1_5)"><polygon points="42.3,114.0 60.0,113.0 72.0,118.0 74.0,129.3 42.3,129.3" fill="url(#lg3)" fill-opacity="1"/><polygon points="74.0,121.0 96.0,121.0 98.0,129.3 74.0,129.3" fill="#545cbe" fill-opacity="0.38"/><polygon points="42.3,129.3 74.0,129.3 74.0,175.8 42.3,175.8" fill="#545cbe" fill-opacity="0.83"/><polygon points="74.0,129.3 98.0,129.3 98.0,175.8 74.0,175.8" fill="#545cbe" fill-opacity="0.7"/></g></g><ellipse cx="47.3" cy="126.6" rx="11" ry="5.0" fill="url(#g_org)" opacity="1" filter="url(#bl0_8)"/><ellipse cx="52.2" cy="155" rx="8.5" ry="18" fill="url(#g_yel)" opacity="1" filter="url(#bl1)"/><ellipse cx="52.2" cy="157" rx="5" ry="11" fill="url(#g_org)" opacity="0.55" filter="url(#bl1)"/><ellipse cx="89.8" cy="145.5" rx="8" ry="17" fill="url(#g_yel)" opacity="0.9" filter="url(#bl1)"/><ellipse cx="89.8" cy="145.5" rx="4.5" ry="10" fill="url(#g_grn)" opacity="0.7" filter="url(#bl1)"/>
</g>
<line x1="74.50" y1="100.00" x2="74.50" y2="175.80" stroke="#3a3a3a" stroke-width="0.85" />
<line x1="42.30" y1="129.50" x2="118.50" y2="129.50" stroke="#3a3a3a" stroke-width="0.85" />
<rect x="42.3" y="100.0" width="76.2" height="75.8" fill="none" stroke="#666" stroke-width="0.9"/>
<text x="44.30" y="105.20" font-size="3.6" text-anchor="start" font-weight="bold" fill="#111" >18</text>
<text x="116.50" y="105.20" font-size="3.6" text-anchor="end" font-weight="bold" fill="#111" >1.31</text>
<rect x="43.3" y="170.3" width="8" height="4.8" fill="#fff" opacity="0.85"/>
<text x="44.30" y="174.20" font-size="3.6" text-anchor="start" font-weight="bold" fill="#111" >51</text>
<rect x="108.5" y="170.3" width="9" height="4.8" fill="#fff" opacity="0.85"/>
<text x="116.50" y="174.20" font-size="3.6" text-anchor="end" font-weight="bold" fill="#111" >29.8</text>
<text x="40.30" y="108.40" font-size="3.8" text-anchor="end" font-weight="bold" fill="#000" >10<tspan dy="-1.2" font-size="2.7">5</tspan></text>
<line x1="41.10" y1="107.00" x2="42.30" y2="107.00" stroke="#333" stroke-width="0.6" />
<text x="40.30" y="125.40" font-size="3.8" text-anchor="end" font-weight="bold" fill="#000" >10<tspan dy="-1.2" font-size="2.7">4</tspan></text>
<line x1="41.10" y1="124.00" x2="42.30" y2="124.00" stroke="#333" stroke-width="0.6" />
<text x="40.30" y="143.40" font-size="3.8" text-anchor="end" font-weight="bold" fill="#000" >10<tspan dy="-1.2" font-size="2.7">3</tspan></text>
<line x1="41.10" y1="142.00" x2="42.30" y2="142.00" stroke="#333" stroke-width="0.6" />
<text x="40.30" y="161.40" font-size="3.8" text-anchor="end" font-weight="bold" fill="#000" >10<tspan dy="-1.2" font-size="2.7">2</tspan></text>
<line x1="41.10" y1="160.00" x2="42.30" y2="160.00" stroke="#333" stroke-width="0.6" />
<text x="40.30" y="168.60" font-size="3.8" text-anchor="end" font-weight="bold" fill="#000" >0</text>
<line x1="41.10" y1="167.20" x2="42.30" y2="167.20" stroke="#333" stroke-width="0.6" />
<line x1="41.60" y1="110.00" x2="42.30" y2="110.00" stroke="#555" stroke-width="0.4" />
<line x1="41.60" y1="113.00" x2="42.30" y2="113.00" stroke="#555" stroke-width="0.4" />
<line x1="41.60" y1="115.00" x2="42.30" y2="115.00" stroke="#555" stroke-width="0.4" />
<line x1="41.60" y1="117.00" x2="42.30" y2="117.00" stroke="#555" stroke-width="0.4" />
<line x1="41.60" y1="119.00" x2="42.30" y2="119.00" stroke="#555" stroke-width="0.4" />
<line x1="41.60" y1="120.50" x2="42.30" y2="120.50" stroke="#555" stroke-width="0.4" />
<line x1="41.60" y1="121.50" x2="42.30" y2="121.50" stroke="#555" stroke-width="0.4" />
<line x1="41.60" y1="122.50" x2="42.30" y2="122.50" stroke="#555" stroke-width="0.4" />
<line x1="41.60" y1="123.30" x2="42.30" y2="123.30" stroke="#555" stroke-width="0.4" />
<line x1="41.60" y1="127.00" x2="42.30" y2="127.00" stroke="#555" stroke-width="0.4" />
<line x1="41.60" y1="130.00" x2="42.30" y2="130.00" stroke="#555" stroke-width="0.4" />
<line x1="41.60" y1="132.00" x2="42.30" y2="132.00" stroke="#555" stroke-width="0.4" />
<line x1="41.60" y1="134.00" x2="42.30" y2="134.00" stroke="#555" stroke-width="0.4" />
<line x1="41.60" y1="136.00" x2="42.30" y2="136.00" stroke="#555" stroke-width="0.4" />
<line x1="41.60" y1="137.50" x2="42.30" y2="137.50" stroke="#555" stroke-width="0.4" />
<line x1="41.60" y1="138.50" x2="42.30" y2="138.50" stroke="#555" stroke-width="0.4" />
<line x1="41.60" y1="139.50" x2="42.30" y2="139.50" stroke="#555" stroke-width="0.4" />
<line x1="41.60" y1="140.50" x2="42.30" y2="140.50" stroke="#555" stroke-width="0.4" />
<line x1="41.60" y1="141.30" x2="42.30" y2="141.30" stroke="#555" stroke-width="0.4" />
<line x1="41.60" y1="145.00" x2="42.30" y2="145.00" stroke="#555" stroke-width="0.4" />
<line x1="41.60" y1="148.00" x2="42.30" y2="148.00" stroke="#555" stroke-width="0.4" />
<line x1="41.60" y1="150.00" x2="42.30" y2="150.00" stroke="#555" stroke-width="0.4" />
<line x1="41.60" y1="152.00" x2="42.30" y2="152.00" stroke="#555" stroke-width="0.4" />
<line x1="41.60" y1="154.00" x2="42.30" y2="154.00" stroke="#555" stroke-width="0.4" />
<line x1="41.60" y1="155.50" x2="42.30" y2="155.50" stroke="#555" stroke-width="0.4" />
<line x1="41.60" y1="156.50" x2="42.30" y2="156.50" stroke="#555" stroke-width="0.4" />
<line x1="41.60" y1="157.50" x2="42.30" y2="157.50" stroke="#555" stroke-width="0.4" />
<line x1="41.60" y1="158.50" x2="42.30" y2="158.50" stroke="#555" stroke-width="0.4" />
<line x1="41.60" y1="159.30" x2="42.30" y2="159.30" stroke="#555" stroke-width="0.4" />
<line x1="41.60" y1="162.00" x2="42.30" y2="162.00" stroke="#555" stroke-width="0.4" />
<line x1="41.60" y1="164.00" x2="42.30" y2="164.00" stroke="#555" stroke-width="0.4" />
<line x1="41.60" y1="166.00" x2="42.30" y2="166.00" stroke="#555" stroke-width="0.4" />
<text x="50.60" y="182.40" font-size="3.8" text-anchor="middle" font-weight="bold" fill="#000" >0</text>
<line x1="50.60" y1="175.80" x2="50.60" y2="177.00" stroke="#333" stroke-width="0.6" />
<text x="59.60" y="182.40" font-size="3.8" text-anchor="middle" font-weight="bold" fill="#000" >10<tspan dy="-1.2" font-size="2.7">2</tspan></text>
<line x1="59.60" y1="175.80" x2="59.60" y2="177.00" stroke="#333" stroke-width="0.6" />
<text x="76.30" y="182.40" font-size="3.8" text-anchor="middle" font-weight="bold" fill="#000" >10<tspan dy="-1.2" font-size="2.7">3</tspan></text>
<line x1="76.30" y1="175.80" x2="76.30" y2="177.00" stroke="#333" stroke-width="0.6" />
<text x="94.70" y="182.40" font-size="3.8" text-anchor="middle" font-weight="bold" fill="#000" >10<tspan dy="-1.2" font-size="2.7">4</tspan></text>
<line x1="94.70" y1="175.80" x2="94.70" y2="177.00" stroke="#333" stroke-width="0.6" />
<text x="111.90" y="182.40" font-size="3.8" text-anchor="middle" font-weight="bold" fill="#000" >10<tspan dy="-1.2" font-size="2.7">5</tspan></text>
<line x1="111.90" y1="175.80" x2="111.90" y2="177.00" stroke="#333" stroke-width="0.6" />
<g clip-path="url(#clip11)">
<g filter="url(#spk4)"><g filter="url(#bl1_5)"><polygon points="132.8,114.0 160.0,114.0 166.0,119.0 164.6,128.5 132.8,128.5" fill="url(#lg4)" fill-opacity="1"/><polygon points="132.8,131.0 164.6,131.0 168.0,136.0 168.0,146.0 132.8,146.0" fill="#545cbe" fill-opacity="0.38"/><polygon points="132.8,146.0 168.0,146.0 168.0,175.8 132.8,175.8" fill="#545cbe" fill-opacity="0.73"/><polygon points="164.6,136.0 178.0,137.0 186.0,146.0 186.0,175.8 164.6,175.8" fill="#545cbe" fill-opacity="0.78"/></g></g><ellipse cx="171.6" cy="157" rx="13" ry="21" fill="url(#g_yel)" opacity="1" filter="url(#bl1_2)"/><ellipse cx="172.0" cy="155" rx="5.5" ry="10" fill="url(#g_org)" opacity="0.45" filter="url(#bl1)"/>
</g>
<line x1="164.50" y1="100.00" x2="164.50" y2="175.80" stroke="#3a3a3a" stroke-width="0.85" />
<line x1="132.80" y1="129.50" x2="209.00" y2="129.50" stroke="#3a3a3a" stroke-width="0.85" />
<rect x="132.8" y="100.0" width="76.2" height="75.8" fill="none" stroke="#666" stroke-width="0.9"/>
<text x="134.80" y="105.20" font-size="3.6" text-anchor="start" font-weight="bold" fill="#111" >4.28</text>
<text x="207.00" y="105.20" font-size="3.6" text-anchor="end" font-weight="bold" fill="#111" >0.229</text>
<rect x="133.8" y="170.3" width="8" height="4.8" fill="#fff" opacity="0.85"/>
<text x="134.80" y="174.20" font-size="3.6" text-anchor="start" font-weight="bold" fill="#111" >23.1</text>
<rect x="199.0" y="170.3" width="9" height="4.8" fill="#fff" opacity="0.85"/>
<text x="207.00" y="174.20" font-size="3.6" text-anchor="end" font-weight="bold" fill="#111" >72.3</text>
<text x="130.80" y="108.40" font-size="3.8" text-anchor="end" font-weight="bold" fill="#000" >10<tspan dy="-1.2" font-size="2.7">5</tspan></text>
<line x1="131.60" y1="107.00" x2="132.80" y2="107.00" stroke="#333" stroke-width="0.6" />
<text x="130.80" y="125.40" font-size="3.8" text-anchor="end" font-weight="bold" fill="#000" >10<tspan dy="-1.2" font-size="2.7">4</tspan></text>
<line x1="131.60" y1="124.00" x2="132.80" y2="124.00" stroke="#333" stroke-width="0.6" />
<text x="130.80" y="143.40" font-size="3.8" text-anchor="end" font-weight="bold" fill="#000" >10<tspan dy="-1.2" font-size="2.7">3</tspan></text>
<line x1="131.60" y1="142.00" x2="132.80" y2="142.00" stroke="#333" stroke-width="0.6" />
<text x="130.80" y="161.40" font-size="3.8" text-anchor="end" font-weight="bold" fill="#000" >10<tspan dy="-1.2" font-size="2.7">2</tspan></text>
<line x1="131.60" y1="160.00" x2="132.80" y2="160.00" stroke="#333" stroke-width="0.6" />
<text x="130.80" y="168.60" font-size="3.8" text-anchor="end" font-weight="bold" fill="#000" >0</text>
<line x1="131.60" y1="167.20" x2="132.80" y2="167.20" stroke="#333" stroke-width="0.6" />
<line x1="132.10" y1="110.00" x2="132.80" y2="110.00" stroke="#555" stroke-width="0.4" />
<line x1="132.10" y1="113.00" x2="132.80" y2="113.00" stroke="#555" stroke-width="0.4" />
<line x1="132.10" y1="115.00" x2="132.80" y2="115.00" stroke="#555" stroke-width="0.4" />
<line x1="132.10" y1="117.00" x2="132.80" y2="117.00" stroke="#555" stroke-width="0.4" />
<line x1="132.10" y1="119.00" x2="132.80" y2="119.00" stroke="#555" stroke-width="0.4" />
<line x1="132.10" y1="120.50" x2="132.80" y2="120.50" stroke="#555" stroke-width="0.4" />
<line x1="132.10" y1="121.50" x2="132.80" y2="121.50" stroke="#555" stroke-width="0.4" />
<line x1="132.10" y1="122.50" x2="132.80" y2="122.50" stroke="#555" stroke-width="0.4" />
<line x1="132.10" y1="123.30" x2="132.80" y2="123.30" stroke="#555" stroke-width="0.4" />
<line x1="132.10" y1="127.00" x2="132.80" y2="127.00" stroke="#555" stroke-width="0.4" />
<line x1="132.10" y1="130.00" x2="132.80" y2="130.00" stroke="#555" stroke-width="0.4" />
<line x1="132.10" y1="132.00" x2="132.80" y2="132.00" stroke="#555" stroke-width="0.4" />
<line x1="132.10" y1="134.00" x2="132.80" y2="134.00" stroke="#555" stroke-width="0.4" />
<line x1="132.10" y1="136.00" x2="132.80" y2="136.00" stroke="#555" stroke-width="0.4" />
<line x1="132.10" y1="137.50" x2="132.80" y2="137.50" stroke="#555" stroke-width="0.4" />
<line x1="132.10" y1="138.50" x2="132.80" y2="138.50" stroke="#555" stroke-width="0.4" />
<line x1="132.10" y1="139.50" x2="132.80" y2="139.50" stroke="#555" stroke-width="0.4" />
<line x1="132.10" y1="140.50" x2="132.80" y2="140.50" stroke="#555" stroke-width="0.4" />
<line x1="132.10" y1="141.30" x2="132.80" y2="141.30" stroke="#555" stroke-width="0.4" />
<line x1="132.10" y1="145.00" x2="132.80" y2="145.00" stroke="#555" stroke-width="0.4" />
<line x1="132.10" y1="148.00" x2="132.80" y2="148.00" stroke="#555" stroke-width="0.4" />
<line x1="132.10" y1="150.00" x2="132.80" y2="150.00" stroke="#555" stroke-width="0.4" />
<line x1="132.10" y1="152.00" x2="132.80" y2="152.00" stroke="#555" stroke-width="0.4" />
<line x1="132.10" y1="154.00" x2="132.80" y2="154.00" stroke="#555" stroke-width="0.4" />
<line x1="132.10" y1="155.50" x2="132.80" y2="155.50" stroke="#555" stroke-width="0.4" />
<line x1="132.10" y1="156.50" x2="132.80" y2="156.50" stroke="#555" stroke-width="0.4" />
<line x1="132.10" y1="157.50" x2="132.80" y2="157.50" stroke="#555" stroke-width="0.4" />
<line x1="132.10" y1="158.50" x2="132.80" y2="158.50" stroke="#555" stroke-width="0.4" />
<line x1="132.10" y1="159.30" x2="132.80" y2="159.30" stroke="#555" stroke-width="0.4" />
<line x1="132.10" y1="162.00" x2="132.80" y2="162.00" stroke="#555" stroke-width="0.4" />
<line x1="132.10" y1="164.00" x2="132.80" y2="164.00" stroke="#555" stroke-width="0.4" />
<line x1="132.10" y1="166.00" x2="132.80" y2="166.00" stroke="#555" stroke-width="0.4" />
<text x="141.10" y="182.40" font-size="3.8" text-anchor="middle" font-weight="bold" fill="#000" >0</text>
<line x1="141.10" y1="175.80" x2="141.10" y2="177.00" stroke="#333" stroke-width="0.6" />
<text x="150.10" y="182.40" font-size="3.8" text-anchor="middle" font-weight="bold" fill="#000" >10<tspan dy="-1.2" font-size="2.7">2</tspan></text>
<line x1="150.10" y1="175.80" x2="150.10" y2="177.00" stroke="#333" stroke-width="0.6" />
<text x="166.80" y="182.40" font-size="3.8" text-anchor="middle" font-weight="bold" fill="#000" >10<tspan dy="-1.2" font-size="2.7">3</tspan></text>
<line x1="166.80" y1="175.80" x2="166.80" y2="177.00" stroke="#333" stroke-width="0.6" />
<text x="185.20" y="182.40" font-size="3.8" text-anchor="middle" font-weight="bold" fill="#000" >10<tspan dy="-1.2" font-size="2.7">4</tspan></text>
<line x1="185.20" y1="175.80" x2="185.20" y2="177.00" stroke="#333" stroke-width="0.6" />
<text x="202.40" y="182.40" font-size="3.8" text-anchor="middle" font-weight="bold" fill="#000" >10<tspan dy="-1.2" font-size="2.7">5</tspan></text>
<line x1="202.40" y1="175.80" x2="202.40" y2="177.00" stroke="#333" stroke-width="0.6" />
<g clip-path="url(#clip12)">
<g filter="url(#spk5)"><g filter="url(#bl1_5)"><polygon points="223.5,113.0 238.0,115.0 246.0,122.0 250.0,128.0 223.5,128.0" fill="url(#lg5)" fill-opacity="1"/><polygon points="223.5,130.0 254.5,130.0 254.5,142.0 223.5,142.0" fill="#545cbe" fill-opacity="0.42"/><polygon points="223.5,142.0 254.5,142.0 254.5,175.8 223.5,175.8" fill="#545cbe" fill-opacity="0.86"/><polygon points="254.5,125.0 268.0,126.0 281.0,132.0 283.0,175.8 254.5,175.8" fill="#545cbe" fill-opacity="0.8"/><polygon points="254.5,116.0 268.0,120.0 274.0,126.0 254.5,126.0" fill="#545cbe" fill-opacity="0.33"/></g></g><ellipse cx="230.5" cy="123.3" rx="10" ry="4.5" fill="url(#g_grn)" opacity="1" filter="url(#bl1)"/><ellipse cx="233.2" cy="155" rx="8.5" ry="16" fill="url(#g_yel)" opacity="1" filter="url(#bl1)"/><ellipse cx="271" cy="150" rx="9" ry="19" fill="url(#g_lcyan)" opacity="0.45" filter="url(#bl2)"/><ellipse cx="248" cy="158" rx="10" ry="14" fill="url(#g_lcyan)" opacity="0.3" filter="url(#bl2)"/>
</g>
<line x1="254.50" y1="100.00" x2="254.50" y2="175.80" stroke="#3a3a3a" stroke-width="0.85" />
<line x1="223.50" y1="129.50" x2="299.70" y2="129.50" stroke="#3a3a3a" stroke-width="0.85" />
<rect x="223.5" y="100.0" width="76.2" height="75.8" fill="none" stroke="#666" stroke-width="0.9"/>
<text x="225.50" y="105.20" font-size="3.6" text-anchor="start" font-weight="bold" fill="#111" >12.9</text>
<text x="297.70" y="105.20" font-size="3.6" text-anchor="end" font-weight="bold" fill="#111" >0.982</text>
<rect x="224.5" y="170.3" width="8" height="4.8" fill="#fff" opacity="0.85"/>
<text x="225.50" y="174.20" font-size="3.6" text-anchor="start" font-weight="bold" fill="#111" >50.6</text>
<rect x="289.7" y="170.3" width="9" height="4.8" fill="#fff" opacity="0.85"/>
<text x="297.70" y="174.20" font-size="3.6" text-anchor="end" font-weight="bold" fill="#111" >36</text>
<text x="221.50" y="108.40" font-size="3.8" text-anchor="end" font-weight="bold" fill="#000" >10<tspan dy="-1.2" font-size="2.7">5</tspan></text>
<line x1="222.30" y1="107.00" x2="223.50" y2="107.00" stroke="#333" stroke-width="0.6" />
<text x="221.50" y="125.40" font-size="3.8" text-anchor="end" font-weight="bold" fill="#000" >10<tspan dy="-1.2" font-size="2.7">4</tspan></text>
<line x1="222.30" y1="124.00" x2="223.50" y2="124.00" stroke="#333" stroke-width="0.6" />
<text x="221.50" y="143.40" font-size="3.8" text-anchor="end" font-weight="bold" fill="#000" >10<tspan dy="-1.2" font-size="2.7">3</tspan></text>
<line x1="222.30" y1="142.00" x2="223.50" y2="142.00" stroke="#333" stroke-width="0.6" />
<text x="221.50" y="161.40" font-size="3.8" text-anchor="end" font-weight="bold" fill="#000" >10<tspan dy="-1.2" font-size="2.7">2</tspan></text>
<line x1="222.30" y1="160.00" x2="223.50" y2="160.00" stroke="#333" stroke-width="0.6" />
<text x="221.50" y="168.60" font-size="3.8" text-anchor="end" font-weight="bold" fill="#000" >0</text>
<line x1="222.30" y1="167.20" x2="223.50" y2="167.20" stroke="#333" stroke-width="0.6" />
<line x1="222.80" y1="110.00" x2="223.50" y2="110.00" stroke="#555" stroke-width="0.4" />
<line x1="222.80" y1="113.00" x2="223.50" y2="113.00" stroke="#555" stroke-width="0.4" />
<line x1="222.80" y1="115.00" x2="223.50" y2="115.00" stroke="#555" stroke-width="0.4" />
<line x1="222.80" y1="117.00" x2="223.50" y2="117.00" stroke="#555" stroke-width="0.4" />
<line x1="222.80" y1="119.00" x2="223.50" y2="119.00" stroke="#555" stroke-width="0.4" />
<line x1="222.80" y1="120.50" x2="223.50" y2="120.50" stroke="#555" stroke-width="0.4" />
<line x1="222.80" y1="121.50" x2="223.50" y2="121.50" stroke="#555" stroke-width="0.4" />
<line x1="222.80" y1="122.50" x2="223.50" y2="122.50" stroke="#555" stroke-width="0.4" />
<line x1="222.80" y1="123.30" x2="223.50" y2="123.30" stroke="#555" stroke-width="0.4" />
<line x1="222.80" y1="127.00" x2="223.50" y2="127.00" stroke="#555" stroke-width="0.4" />
<line x1="222.80" y1="130.00" x2="223.50" y2="130.00" stroke="#555" stroke-width="0.4" />
<line x1="222.80" y1="132.00" x2="223.50" y2="132.00" stroke="#555" stroke-width="0.4" />
<line x1="222.80" y1="134.00" x2="223.50" y2="134.00" stroke="#555" stroke-width="0.4" />
<line x1="222.80" y1="136.00" x2="223.50" y2="136.00" stroke="#555" stroke-width="0.4" />
<line x1="222.80" y1="137.50" x2="223.50" y2="137.50" stroke="#555" stroke-width="0.4" />
<line x1="222.80" y1="138.50" x2="223.50" y2="138.50" stroke="#555" stroke-width="0.4" />
<line x1="222.80" y1="139.50" x2="223.50" y2="139.50" stroke="#555" stroke-width="0.4" />
<line x1="222.80" y1="140.50" x2="223.50" y2="140.50" stroke="#555" stroke-width="0.4" />
<line x1="222.80" y1="141.30" x2="223.50" y2="141.30" stroke="#555" stroke-width="0.4" />
<line x1="222.80" y1="145.00" x2="223.50" y2="145.00" stroke="#555" stroke-width="0.4" />
<line x1="222.80" y1="148.00" x2="223.50" y2="148.00" stroke="#555" stroke-width="0.4" />
<line x1="222.80" y1="150.00" x2="223.50" y2="150.00" stroke="#555" stroke-width="0.4" />
<line x1="222.80" y1="152.00" x2="223.50" y2="152.00" stroke="#555" stroke-width="0.4" />
<line x1="222.80" y1="154.00" x2="223.50" y2="154.00" stroke="#555" stroke-width="0.4" />
<line x1="222.80" y1="155.50" x2="223.50" y2="155.50" stroke="#555" stroke-width="0.4" />
<line x1="222.80" y1="156.50" x2="223.50" y2="156.50" stroke="#555" stroke-width="0.4" />
<line x1="222.80" y1="157.50" x2="223.50" y2="157.50" stroke="#555" stroke-width="0.4" />
<line x1="222.80" y1="158.50" x2="223.50" y2="158.50" stroke="#555" stroke-width="0.4" />
<line x1="222.80" y1="159.30" x2="223.50" y2="159.30" stroke="#555" stroke-width="0.4" />
<line x1="222.80" y1="162.00" x2="223.50" y2="162.00" stroke="#555" stroke-width="0.4" />
<line x1="222.80" y1="164.00" x2="223.50" y2="164.00" stroke="#555" stroke-width="0.4" />
<line x1="222.80" y1="166.00" x2="223.50" y2="166.00" stroke="#555" stroke-width="0.4" />
<text x="231.80" y="182.40" font-size="3.8" text-anchor="middle" font-weight="bold" fill="#000" >0</text>
<line x1="231.80" y1="175.80" x2="231.80" y2="177.00" stroke="#333" stroke-width="0.6" />
<text x="240.80" y="182.40" font-size="3.8" text-anchor="middle" font-weight="bold" fill="#000" >10<tspan dy="-1.2" font-size="2.7">2</tspan></text>
<line x1="240.80" y1="175.80" x2="240.80" y2="177.00" stroke="#333" stroke-width="0.6" />
<text x="257.50" y="182.40" font-size="3.8" text-anchor="middle" font-weight="bold" fill="#000" >10<tspan dy="-1.2" font-size="2.7">3</tspan></text>
<line x1="257.50" y1="175.80" x2="257.50" y2="177.00" stroke="#333" stroke-width="0.6" />
<text x="275.90" y="182.40" font-size="3.8" text-anchor="middle" font-weight="bold" fill="#000" >10<tspan dy="-1.2" font-size="2.7">4</tspan></text>
<line x1="275.90" y1="175.80" x2="275.90" y2="177.00" stroke="#333" stroke-width="0.6" />
<text x="293.10" y="182.40" font-size="3.8" text-anchor="middle" font-weight="bold" fill="#000" >10<tspan dy="-1.2" font-size="2.7">5</tspan></text>
<line x1="293.10" y1="175.80" x2="293.10" y2="177.00" stroke="#333" stroke-width="0.6" />
<g clip-path="url(#clip20)">
<g filter="url(#spk6)"><g filter="url(#bl1_2)"><polygon points="42.3,224.0 98.0,224.0 98.0,232.4 42.3,232.4" fill="#545cbe" fill-opacity="0.33"/><polygon points="42.3,232.4 72.7,232.4 72.7,274.2 42.3,274.2" fill="#545cbe" fill-opacity="0.88"/><polygon points="72.7,232.4 97.5,232.4 98.0,274.2 72.7,274.2" fill="#545cbe" fill-opacity="0.78"/></g></g><ellipse cx="52.2" cy="256.4" rx="9.5" ry="18" fill="url(#g_org)" opacity="1" filter="url(#bl1)"/><ellipse cx="88.2" cy="246.6" rx="6.5" ry="11" fill="url(#g_grn)" opacity="0.9" filter="url(#bl1)"/>
</g>
<line x1="72.50" y1="198.40" x2="72.50" y2="274.20" stroke="#3a3a3a" stroke-width="0.85" />
<line x1="42.30" y1="234.50" x2="118.50" y2="234.50" stroke="#3a3a3a" stroke-width="0.85" />
<rect x="42.3" y="198.4" width="76.2" height="75.8" fill="none" stroke="#666" stroke-width="0.9"/>
<text x="44.30" y="203.60" font-size="3.6" text-anchor="start" font-weight="bold" fill="#111" >0.646</text>
<text x="116.50" y="203.60" font-size="3.6" text-anchor="end" font-weight="bold" fill="#111" >1.06</text>
<rect x="43.3" y="268.7" width="8" height="4.8" fill="#fff" opacity="0.85"/>
<text x="44.30" y="272.60" font-size="3.6" text-anchor="start" font-weight="bold" fill="#111" >67.2</text>
<rect x="108.5" y="268.7" width="9" height="4.8" fill="#fff" opacity="0.85"/>
<text x="116.50" y="272.60" font-size="3.6" text-anchor="end" font-weight="bold" fill="#111" >30.6</text>
<text x="40.30" y="206.80" font-size="3.8" text-anchor="end" font-weight="bold" fill="#000" >10<tspan dy="-1.2" font-size="2.7">5</tspan></text>
<line x1="41.10" y1="205.40" x2="42.30" y2="205.40" stroke="#333" stroke-width="0.6" />
<text x="40.30" y="223.80" font-size="3.8" text-anchor="end" font-weight="bold" fill="#000" >10<tspan dy="-1.2" font-size="2.7">4</tspan></text>
<line x1="41.10" y1="222.40" x2="42.30" y2="222.40" stroke="#333" stroke-width="0.6" />
<text x="40.30" y="241.80" font-size="3.8" text-anchor="end" font-weight="bold" fill="#000" >10<tspan dy="-1.2" font-size="2.7">3</tspan></text>
<line x1="41.10" y1="240.40" x2="42.30" y2="240.40" stroke="#333" stroke-width="0.6" />
<text x="40.30" y="259.80" font-size="3.8" text-anchor="end" font-weight="bold" fill="#000" >10<tspan dy="-1.2" font-size="2.7">2</tspan></text>
<line x1="41.10" y1="258.40" x2="42.30" y2="258.40" stroke="#333" stroke-width="0.6" />
<text x="40.30" y="267.00" font-size="3.8" text-anchor="end" font-weight="bold" fill="#000" >0</text>
<line x1="41.10" y1="265.60" x2="42.30" y2="265.60" stroke="#333" stroke-width="0.6" />
<line x1="41.60" y1="208.40" x2="42.30" y2="208.40" stroke="#555" stroke-width="0.4" />
<line x1="41.60" y1="211.40" x2="42.30" y2="211.40" stroke="#555" stroke-width="0.4" />
<line x1="41.60" y1="213.40" x2="42.30" y2="213.40" stroke="#555" stroke-width="0.4" />
<line x1="41.60" y1="215.40" x2="42.30" y2="215.40" stroke="#555" stroke-width="0.4" />
<line x1="41.60" y1="217.40" x2="42.30" y2="217.40" stroke="#555" stroke-width="0.4" />
<line x1="41.60" y1="218.90" x2="42.30" y2="218.90" stroke="#555" stroke-width="0.4" />
<line x1="41.60" y1="219.90" x2="42.30" y2="219.90" stroke="#555" stroke-width="0.4" />
<line x1="41.60" y1="220.90" x2="42.30" y2="220.90" stroke="#555" stroke-width="0.4" />
<line x1="41.60" y1="221.70" x2="42.30" y2="221.70" stroke="#555" stroke-width="0.4" />
<line x1="41.60" y1="225.40" x2="42.30" y2="225.40" stroke="#555" stroke-width="0.4" />
<line x1="41.60" y1="228.40" x2="42.30" y2="228.40" stroke="#555" stroke-width="0.4" />
<line x1="41.60" y1="230.40" x2="42.30" y2="230.40" stroke="#555" stroke-width="0.4" />
<line x1="41.60" y1="232.40" x2="42.30" y2="232.40" stroke="#555" stroke-width="0.4" />
<line x1="41.60" y1="234.40" x2="42.30" y2="234.40" stroke="#555" stroke-width="0.4" />
<line x1="41.60" y1="235.90" x2="42.30" y2="235.90" stroke="#555" stroke-width="0.4" />
<line x1="41.60" y1="236.90" x2="42.30" y2="236.90" stroke="#555" stroke-width="0.4" />
<line x1="41.60" y1="237.90" x2="42.30" y2="237.90" stroke="#555" stroke-width="0.4" />
<line x1="41.60" y1="238.90" x2="42.30" y2="238.90" stroke="#555" stroke-width="0.4" />
<line x1="41.60" y1="239.70" x2="42.30" y2="239.70" stroke="#555" stroke-width="0.4" />
<line x1="41.60" y1="243.40" x2="42.30" y2="243.40" stroke="#555" stroke-width="0.4" />
<line x1="41.60" y1="246.40" x2="42.30" y2="246.40" stroke="#555" stroke-width="0.4" />
<line x1="41.60" y1="248.40" x2="42.30" y2="248.40" stroke="#555" stroke-width="0.4" />
<line x1="41.60" y1="250.40" x2="42.30" y2="250.40" stroke="#555" stroke-width="0.4" />
<line x1="41.60" y1="252.40" x2="42.30" y2="252.40" stroke="#555" stroke-width="0.4" />
<line x1="41.60" y1="253.90" x2="42.30" y2="253.90" stroke="#555" stroke-width="0.4" />
<line x1="41.60" y1="254.90" x2="42.30" y2="254.90" stroke="#555" stroke-width="0.4" />
<line x1="41.60" y1="255.90" x2="42.30" y2="255.90" stroke="#555" stroke-width="0.4" />
<line x1="41.60" y1="256.90" x2="42.30" y2="256.90" stroke="#555" stroke-width="0.4" />
<line x1="41.60" y1="257.70" x2="42.30" y2="257.70" stroke="#555" stroke-width="0.4" />
<line x1="41.60" y1="260.40" x2="42.30" y2="260.40" stroke="#555" stroke-width="0.4" />
<line x1="41.60" y1="262.40" x2="42.30" y2="262.40" stroke="#555" stroke-width="0.4" />
<line x1="41.60" y1="264.40" x2="42.30" y2="264.40" stroke="#555" stroke-width="0.4" />
<text x="50.60" y="280.80" font-size="3.8" text-anchor="middle" font-weight="bold" fill="#000" >0</text>
<line x1="50.60" y1="274.20" x2="50.60" y2="275.40" stroke="#333" stroke-width="0.6" />
<text x="59.60" y="280.80" font-size="3.8" text-anchor="middle" font-weight="bold" fill="#000" >10<tspan dy="-1.2" font-size="2.7">2</tspan></text>
<line x1="59.60" y1="274.20" x2="59.60" y2="275.40" stroke="#333" stroke-width="0.6" />
<text x="76.30" y="280.80" font-size="3.8" text-anchor="middle" font-weight="bold" fill="#000" >10<tspan dy="-1.2" font-size="2.7">3</tspan></text>
<line x1="76.30" y1="274.20" x2="76.30" y2="275.40" stroke="#333" stroke-width="0.6" />
<text x="94.70" y="280.80" font-size="3.8" text-anchor="middle" font-weight="bold" fill="#000" >10<tspan dy="-1.2" font-size="2.7">4</tspan></text>
<line x1="94.70" y1="274.20" x2="94.70" y2="275.40" stroke="#333" stroke-width="0.6" />
<text x="111.90" y="280.80" font-size="3.8" text-anchor="middle" font-weight="bold" fill="#000" >10<tspan dy="-1.2" font-size="2.7">5</tspan></text>
<line x1="111.90" y1="274.20" x2="111.90" y2="275.40" stroke="#333" stroke-width="0.6" />
<g clip-path="url(#clip21)">
<g filter="url(#spk7)"><g filter="url(#bl1_2)"><polygon points="132.8,229.0 185.5,228.0 185.5,233.4 132.8,233.4" fill="#545cbe" fill-opacity="0.43"/><polygon points="132.8,233.4 186.0,233.4 186.0,274.2 132.8,274.2" fill="#545cbe" fill-opacity="0.8"/></g></g><ellipse cx="171" cy="243.0" rx="16" ry="19" fill="url(#g_lcyan)" opacity="0.75" filter="url(#bl1_5)"/><polygon points="161.0,230.5 182.0,229.5 176.0,254.0 167.0,255.0" fill="#7cc658" fill-opacity="0.85" filter="url(#bl2)"/><ellipse cx="171.5" cy="240.3" rx="5.5" ry="6.0" fill="#dcd232" fill-opacity="0.9" transform="rotate(-10 171.5 240.3)" filter="url(#bl1_5)"/><ellipse cx="171.6" cy="239.6" rx="4.0" ry="3.2" fill="#e27a26" fill-opacity="0.95" transform="rotate(-15 171.6 239.6)" filter="url(#bl1)"/>
</g>
<line x1="163.50" y1="198.40" x2="163.50" y2="274.20" stroke="#3a3a3a" stroke-width="0.85" />
<line x1="132.80" y1="234.50" x2="209.00" y2="234.50" stroke="#3a3a3a" stroke-width="0.85" />
<rect x="132.8" y="198.4" width="76.2" height="75.8" fill="none" stroke="#666" stroke-width="0.9"/>
<text x="134.80" y="203.60" font-size="3.6" text-anchor="start" font-weight="bold" fill="#111" >0.195</text>
<text x="207.00" y="203.60" font-size="3.6" text-anchor="end" font-weight="bold" fill="#111" >3.78</text>
<rect x="133.8" y="268.7" width="8" height="4.8" fill="#fff" opacity="0.85"/>
<text x="134.80" y="272.60" font-size="3.6" text-anchor="start" font-weight="bold" fill="#111" >24.1</text>
<rect x="199.0" y="268.7" width="9" height="4.8" fill="#fff" opacity="0.85"/>
<text x="207.00" y="272.60" font-size="3.6" text-anchor="end" font-weight="bold" fill="#111" >71.9</text>
<text x="130.80" y="206.80" font-size="3.8" text-anchor="end" font-weight="bold" fill="#000" >10<tspan dy="-1.2" font-size="2.7">5</tspan></text>
<line x1="131.60" y1="205.40" x2="132.80" y2="205.40" stroke="#333" stroke-width="0.6" />
<text x="130.80" y="223.80" font-size="3.8" text-anchor="end" font-weight="bold" fill="#000" >10<tspan dy="-1.2" font-size="2.7">4</tspan></text>
<line x1="131.60" y1="222.40" x2="132.80" y2="222.40" stroke="#333" stroke-width="0.6" />
<text x="130.80" y="241.80" font-size="3.8" text-anchor="end" font-weight="bold" fill="#000" >10<tspan dy="-1.2" font-size="2.7">3</tspan></text>
<line x1="131.60" y1="240.40" x2="132.80" y2="240.40" stroke="#333" stroke-width="0.6" />
<text x="130.80" y="259.80" font-size="3.8" text-anchor="end" font-weight="bold" fill="#000" >10<tspan dy="-1.2" font-size="2.7">2</tspan></text>
<line x1="131.60" y1="258.40" x2="132.80" y2="258.40" stroke="#333" stroke-width="0.6" />
<text x="130.80" y="267.00" font-size="3.8" text-anchor="end" font-weight="bold" fill="#000" >0</text>
<line x1="131.60" y1="265.60" x2="132.80" y2="265.60" stroke="#333" stroke-width="0.6" />
<line x1="132.10" y1="208.40" x2="132.80" y2="208.40" stroke="#555" stroke-width="0.4" />
<line x1="132.10" y1="211.40" x2="132.80" y2="211.40" stroke="#555" stroke-width="0.4" />
<line x1="132.10" y1="213.40" x2="132.80" y2="213.40" stroke="#555" stroke-width="0.4" />
<line x1="132.10" y1="215.40" x2="132.80" y2="215.40" stroke="#555" stroke-width="0.4" />
<line x1="132.10" y1="217.40" x2="132.80" y2="217.40" stroke="#555" stroke-width="0.4" />
<line x1="132.10" y1="218.90" x2="132.80" y2="218.90" stroke="#555" stroke-width="0.4" />
<line x1="132.10" y1="219.90" x2="132.80" y2="219.90" stroke="#555" stroke-width="0.4" />
<line x1="132.10" y1="220.90" x2="132.80" y2="220.90" stroke="#555" stroke-width="0.4" />
<line x1="132.10" y1="221.70" x2="132.80" y2="221.70" stroke="#555" stroke-width="0.4" />
<line x1="132.10" y1="225.40" x2="132.80" y2="225.40" stroke="#555" stroke-width="0.4" />
<line x1="132.10" y1="228.40" x2="132.80" y2="228.40" stroke="#555" stroke-width="0.4" />
<line x1="132.10" y1="230.40" x2="132.80" y2="230.40" stroke="#555" stroke-width="0.4" />
<line x1="132.10" y1="232.40" x2="132.80" y2="232.40" stroke="#555" stroke-width="0.4" />
<line x1="132.10" y1="234.40" x2="132.80" y2="234.40" stroke="#555" stroke-width="0.4" />
<line x1="132.10" y1="235.90" x2="132.80" y2="235.90" stroke="#555" stroke-width="0.4" />
<line x1="132.10" y1="236.90" x2="132.80" y2="236.90" stroke="#555" stroke-width="0.4" />
<line x1="132.10" y1="237.90" x2="132.80" y2="237.90" stroke="#555" stroke-width="0.4" />
<line x1="132.10" y1="238.90" x2="132.80" y2="238.90" stroke="#555" stroke-width="0.4" />
<line x1="132.10" y1="239.70" x2="132.80" y2="239.70" stroke="#555" stroke-width="0.4" />
<line x1="132.10" y1="243.40" x2="132.80" y2="243.40" stroke="#555" stroke-width="0.4" />
<line x1="132.10" y1="246.40" x2="132.80" y2="246.40" stroke="#555" stroke-width="0.4" />
<line x1="132.10" y1="248.40" x2="132.80" y2="248.40" stroke="#555" stroke-width="0.4" />
<line x1="132.10" y1="250.40" x2="132.80" y2="250.40" stroke="#555" stroke-width="0.4" />
<line x1="132.10" y1="252.40" x2="132.80" y2="252.40" stroke="#555" stroke-width="0.4" />
<line x1="132.10" y1="253.90" x2="132.80" y2="253.90" stroke="#555" stroke-width="0.4" />
<line x1="132.10" y1="254.90" x2="132.80" y2="254.90" stroke="#555" stroke-width="0.4" />
<line x1="132.10" y1="255.90" x2="132.80" y2="255.90" stroke="#555" stroke-width="0.4" />
<line x1="132.10" y1="256.90" x2="132.80" y2="256.90" stroke="#555" stroke-width="0.4" />
<line x1="132.10" y1="257.70" x2="132.80" y2="257.70" stroke="#555" stroke-width="0.4" />
<line x1="132.10" y1="260.40" x2="132.80" y2="260.40" stroke="#555" stroke-width="0.4" />
<line x1="132.10" y1="262.40" x2="132.80" y2="262.40" stroke="#555" stroke-width="0.4" />
<line x1="132.10" y1="264.40" x2="132.80" y2="264.40" stroke="#555" stroke-width="0.4" />
<text x="141.10" y="280.80" font-size="3.8" text-anchor="middle" font-weight="bold" fill="#000" >0</text>
<line x1="141.10" y1="274.20" x2="141.10" y2="275.40" stroke="#333" stroke-width="0.6" />
<text x="150.10" y="280.80" font-size="3.8" text-anchor="middle" font-weight="bold" fill="#000" >10<tspan dy="-1.2" font-size="2.7">2</tspan></text>
<line x1="150.10" y1="274.20" x2="150.10" y2="275.40" stroke="#333" stroke-width="0.6" />
<text x="166.80" y="280.80" font-size="3.8" text-anchor="middle" font-weight="bold" fill="#000" >10<tspan dy="-1.2" font-size="2.7">3</tspan></text>
<line x1="166.80" y1="274.20" x2="166.80" y2="275.40" stroke="#333" stroke-width="0.6" />
<text x="185.20" y="280.80" font-size="3.8" text-anchor="middle" font-weight="bold" fill="#000" >10<tspan dy="-1.2" font-size="2.7">4</tspan></text>
<line x1="185.20" y1="274.20" x2="185.20" y2="275.40" stroke="#333" stroke-width="0.6" />
<text x="202.40" y="280.80" font-size="3.8" text-anchor="middle" font-weight="bold" fill="#000" >10<tspan dy="-1.2" font-size="2.7">5</tspan></text>
<line x1="202.40" y1="274.20" x2="202.40" y2="275.40" stroke="#333" stroke-width="0.6" />
<g clip-path="url(#clip22)">
<g filter="url(#spk8)"><g filter="url(#bl1_2)"><polygon points="223.5,225.0 281.0,225.0 281.0,233.4 223.5,233.4" fill="#545cbe" fill-opacity="0.33"/><polygon points="223.5,233.4 281.0,233.4 282.0,274.2 223.5,274.2" fill="#545cbe" fill-opacity="0.82"/></g></g><ellipse cx="233.2" cy="254" rx="9.5" ry="17" fill="url(#g_grn)" opacity="1" filter="url(#bl1)"/><ellipse cx="233.2" cy="253" rx="3.5" ry="7" fill="#b8d040" fill-opacity="0.6" filter="url(#bl1_5)"/><ellipse cx="254" cy="253" rx="14" ry="16" fill="url(#g_lcyan)" opacity="0.3" filter="url(#bl2)"/>
</g>
<line x1="253.50" y1="198.40" x2="253.50" y2="274.20" stroke="#3a3a3a" stroke-width="0.85" />
<line x1="223.50" y1="234.50" x2="299.70" y2="234.50" stroke="#3a3a3a" stroke-width="0.85" />
<rect x="223.5" y="198.4" width="76.2" height="75.8" fill="none" stroke="#666" stroke-width="0.9"/>
<text x="225.50" y="203.60" font-size="3.6" text-anchor="start" font-weight="bold" fill="#111" >0.271</text>
<text x="297.70" y="203.60" font-size="3.6" text-anchor="end" font-weight="bold" fill="#111" >0.121</text>
<rect x="224.5" y="268.7" width="8" height="4.8" fill="#fff" opacity="0.85"/>
<text x="225.50" y="272.60" font-size="3.6" text-anchor="start" font-weight="bold" fill="#111" >61.1</text>
<rect x="289.7" y="268.7" width="9" height="4.8" fill="#fff" opacity="0.85"/>
<text x="297.70" y="272.60" font-size="3.6" text-anchor="end" font-weight="bold" fill="#111" >38.5</text>
<text x="221.50" y="206.80" font-size="3.8" text-anchor="end" font-weight="bold" fill="#000" >10<tspan dy="-1.2" font-size="2.7">5</tspan></text>
<line x1="222.30" y1="205.40" x2="223.50" y2="205.40" stroke="#333" stroke-width="0.6" />
<text x="221.50" y="223.80" font-size="3.8" text-anchor="end" font-weight="bold" fill="#000" >10<tspan dy="-1.2" font-size="2.7">4</tspan></text>
<line x1="222.30" y1="222.40" x2="223.50" y2="222.40" stroke="#333" stroke-width="0.6" />
<text x="221.50" y="241.80" font-size="3.8" text-anchor="end" font-weight="bold" fill="#000" >10<tspan dy="-1.2" font-size="2.7">3</tspan></text>
<line x1="222.30" y1="240.40" x2="223.50" y2="240.40" stroke="#333" stroke-width="0.6" />
<text x="221.50" y="259.80" font-size="3.8" text-anchor="end" font-weight="bold" fill="#000" >10<tspan dy="-1.2" font-size="2.7">2</tspan></text>
<line x1="222.30" y1="258.40" x2="223.50" y2="258.40" stroke="#333" stroke-width="0.6" />
<text x="221.50" y="267.00" font-size="3.8" text-anchor="end" font-weight="bold" fill="#000" >0</text>
<line x1="222.30" y1="265.60" x2="223.50" y2="265.60" stroke="#333" stroke-width="0.6" />
<line x1="222.80" y1="208.40" x2="223.50" y2="208.40" stroke="#555" stroke-width="0.4" />
<line x1="222.80" y1="211.40" x2="223.50" y2="211.40" stroke="#555" stroke-width="0.4" />
<line x1="222.80" y1="213.40" x2="223.50" y2="213.40" stroke="#555" stroke-width="0.4" />
<line x1="222.80" y1="215.40" x2="223.50" y2="215.40" stroke="#555" stroke-width="0.4" />
<line x1="222.80" y1="217.40" x2="223.50" y2="217.40" stroke="#555" stroke-width="0.4" />
<line x1="222.80" y1="218.90" x2="223.50" y2="218.90" stroke="#555" stroke-width="0.4" />
<line x1="222.80" y1="219.90" x2="223.50" y2="219.90" stroke="#555" stroke-width="0.4" />
<line x1="222.80" y1="220.90" x2="223.50" y2="220.90" stroke="#555" stroke-width="0.4" />
<line x1="222.80" y1="221.70" x2="223.50" y2="221.70" stroke="#555" stroke-width="0.4" />
<line x1="222.80" y1="225.40" x2="223.50" y2="225.40" stroke="#555" stroke-width="0.4" />
<line x1="222.80" y1="228.40" x2="223.50" y2="228.40" stroke="#555" stroke-width="0.4" />
<line x1="222.80" y1="230.40" x2="223.50" y2="230.40" stroke="#555" stroke-width="0.4" />
<line x1="222.80" y1="232.40" x2="223.50" y2="232.40" stroke="#555" stroke-width="0.4" />
<line x1="222.80" y1="234.40" x2="223.50" y2="234.40" stroke="#555" stroke-width="0.4" />
<line x1="222.80" y1="235.90" x2="223.50" y2="235.90" stroke="#555" stroke-width="0.4" />
<line x1="222.80" y1="236.90" x2="223.50" y2="236.90" stroke="#555" stroke-width="0.4" />
<line x1="222.80" y1="237.90" x2="223.50" y2="237.90" stroke="#555" stroke-width="0.4" />
<line x1="222.80" y1="238.90" x2="223.50" y2="238.90" stroke="#555" stroke-width="0.4" />
<line x1="222.80" y1="239.70" x2="223.50" y2="239.70" stroke="#555" stroke-width="0.4" />
<line x1="222.80" y1="243.40" x2="223.50" y2="243.40" stroke="#555" stroke-width="0.4" />
<line x1="222.80" y1="246.40" x2="223.50" y2="246.40" stroke="#555" stroke-width="0.4" />
<line x1="222.80" y1="248.40" x2="223.50" y2="248.40" stroke="#555" stroke-width="0.4" />
<line x1="222.80" y1="250.40" x2="223.50" y2="250.40" stroke="#555" stroke-width="0.4" />
<line x1="222.80" y1="252.40" x2="223.50" y2="252.40" stroke="#555" stroke-width="0.4" />
<line x1="222.80" y1="253.90" x2="223.50" y2="253.90" stroke="#555" stroke-width="0.4" />
<line x1="222.80" y1="254.90" x2="223.50" y2="254.90" stroke="#555" stroke-width="0.4" />
<line x1="222.80" y1="255.90" x2="223.50" y2="255.90" stroke="#555" stroke-width="0.4" />
<line x1="222.80" y1="256.90" x2="223.50" y2="256.90" stroke="#555" stroke-width="0.4" />
<line x1="222.80" y1="257.70" x2="223.50" y2="257.70" stroke="#555" stroke-width="0.4" />
<line x1="222.80" y1="260.40" x2="223.50" y2="260.40" stroke="#555" stroke-width="0.4" />
<line x1="222.80" y1="262.40" x2="223.50" y2="262.40" stroke="#555" stroke-width="0.4" />
<line x1="222.80" y1="264.40" x2="223.50" y2="264.40" stroke="#555" stroke-width="0.4" />
<text x="231.80" y="280.80" font-size="3.8" text-anchor="middle" font-weight="bold" fill="#000" >0</text>
<line x1="231.80" y1="274.20" x2="231.80" y2="275.40" stroke="#333" stroke-width="0.6" />
<text x="240.80" y="280.80" font-size="3.8" text-anchor="middle" font-weight="bold" fill="#000" >10<tspan dy="-1.2" font-size="2.7">2</tspan></text>
<line x1="240.80" y1="274.20" x2="240.80" y2="275.40" stroke="#333" stroke-width="0.6" />
<text x="257.50" y="280.80" font-size="3.8" text-anchor="middle" font-weight="bold" fill="#000" >10<tspan dy="-1.2" font-size="2.7">3</tspan></text>
<line x1="257.50" y1="274.20" x2="257.50" y2="275.40" stroke="#333" stroke-width="0.6" />
<text x="275.90" y="280.80" font-size="3.8" text-anchor="middle" font-weight="bold" fill="#000" >10<tspan dy="-1.2" font-size="2.7">4</tspan></text>
<line x1="275.90" y1="274.20" x2="275.90" y2="275.40" stroke="#333" stroke-width="0.6" />
<text x="293.10" y="280.80" font-size="3.8" text-anchor="middle" font-weight="bold" fill="#000" >10<tspan dy="-1.2" font-size="2.7">5</tspan></text>
<line x1="293.10" y1="274.20" x2="293.10" y2="275.40" stroke="#333" stroke-width="0.6" />
<line x1="29.1" y1="4.3" x2="29.1" y2="60.699999999999996" stroke="#999" stroke-width="0.9"/>
<path d="M27.6,5.5 L29.1,2.1 L30.6,5.5 Z" fill="#222"/>
<text transform="translate(31.6,76.6) rotate(-90)" font-size="7.4" fill="#222" stroke="#222" stroke-width="0.25">CD4</text>
<text x="42.8" y="92.19999999999999" font-size="7.4" fill="#222" stroke="#222" stroke-width="0.25">CD8</text>
<line x1="59.199999999999996" y1="89.6" x2="296" y2="89.6" stroke="#999" stroke-width="0.9"/>
<path d="M295,88.19999999999999 L298.8,89.6 L295,91.0 Z" fill="#222"/>
<line x1="29.1" y1="103.0" x2="29.1" y2="155.3896" stroke="#999" stroke-width="0.9"/>
<path d="M27.6,104.2 L29.1,100.8 L30.6,104.2 Z" fill="#222"/>
<text transform="translate(31.6,175.3) rotate(-90)" font-size="7.4" fill="#222" stroke="#222" stroke-width="0.25">CD44</text>
<text x="42.8" y="190.9" font-size="7.4" fill="#222" stroke="#222" stroke-width="0.25">CD25</text>
<line x1="63.21039999999999" y1="188.3" x2="296" y2="188.3" stroke="#999" stroke-width="0.9"/>
<path d="M295,186.9 L298.8,188.3 L295,189.70000000000002 Z" fill="#222"/>
<line x1="29.1" y1="201.4" x2="29.1" y2="263.7976" stroke="#999" stroke-width="0.9"/>
<path d="M27.6,202.6 L29.1,199.20000000000002 L30.6,202.6 Z" fill="#222"/>
<text transform="translate(31.6,273.7) rotate(-90)" font-size="7.4" fill="#222" stroke="#222" stroke-width="0.25">Kit</text>
<text x="42.8" y="289.3" font-size="7.4" fill="#222" stroke="#222" stroke-width="0.25">CD25</text>
<line x1="63.21039999999999" y1="286.7" x2="296" y2="286.7" stroke="#999" stroke-width="0.9"/>
<path d="M295,285.3 L298.8,286.7 L295,288.09999999999997 Z" fill="#222"/>
<text x="42.00" y="299.60" font-size="8.4" text-anchor="end" font-weight="normal" fill="#222" stroke="#222" stroke-width="0.22" >CD2-Lmo2:</text>
<text x="42.00" y="311.20" font-size="8.4" text-anchor="end" font-weight="normal" fill="#222" stroke="#222" stroke-width="0.22" >Lyl1:</text>
<text x="74.20" y="299.60" font-size="8.3" text-anchor="middle" font-weight="normal" fill="#222" stroke="#222" stroke-width="0.22" >wt</text>
<text x="74.20" y="311.20" font-size="7.6" text-anchor="middle" font-weight="normal" fill="#222" stroke="#222" stroke-width="0.22" >+/-</text>
<text x="166.20" y="299.60" font-size="8.3" text-anchor="middle" font-weight="normal" fill="#222" stroke="#222" stroke-width="0.22" >Tg</text>
<text x="166.20" y="311.20" font-size="7.6" text-anchor="middle" font-weight="normal" fill="#222" stroke="#222" stroke-width="0.22" >+/-</text>
<text x="260.50" y="299.60" font-size="8.3" text-anchor="middle" font-weight="normal" fill="#222" stroke="#222" stroke-width="0.22" >Tg</text>
<text x="260.50" y="311.20" font-size="7.6" text-anchor="middle" font-weight="normal" fill="#222" stroke="#222" stroke-width="0.22" >-/-</text>
<line x1="369.50" y1="4.50" x2="369.50" y2="103.50" stroke="#222" stroke-width="1.0" />
<line x1="366.30" y1="103.50" x2="369.30" y2="103.50" stroke="#222" stroke-width="0.9" />
<text x="365.70" y="105.98" font-size="6.9" text-anchor="end" font-weight="normal" fill="#222" stroke="#222" stroke-width="0.3" >0</text>
<line x1="366.30" y1="83.50" x2="369.30" y2="83.50" stroke="#222" stroke-width="0.9" />
<text x="365.70" y="86.18" font-size="6.9" text-anchor="end" font-weight="normal" fill="#222" stroke="#222" stroke-width="0.3" >10</text>
<line x1="366.30" y1="63.50" x2="369.30" y2="63.50" stroke="#222" stroke-width="0.9" />
<text x="365.70" y="66.38" font-size="6.9" text-anchor="end" font-weight="normal" fill="#222" stroke="#222" stroke-width="0.3" >20</text>
<line x1="366.30" y1="44.50" x2="369.30" y2="44.50" stroke="#222" stroke-width="0.9" />
<text x="365.70" y="46.58" font-size="6.9" text-anchor="end" font-weight="normal" fill="#222" stroke="#222" stroke-width="0.3" >30</text>
<line x1="366.30" y1="24.50" x2="369.30" y2="24.50" stroke="#222" stroke-width="0.9" />
<text x="365.70" y="26.78" font-size="6.9" text-anchor="end" font-weight="normal" fill="#222" stroke="#222" stroke-width="0.3" >40</text>
<line x1="366.30" y1="4.50" x2="369.30" y2="4.50" stroke="#222" stroke-width="0.9" />
<text x="365.70" y="6.98" font-size="6.9" text-anchor="end" font-weight="normal" fill="#222" stroke="#222" stroke-width="0.3" >50</text>
<line x1="367.70" y1="93.50" x2="369.30" y2="93.50" stroke="#222" stroke-width="0.8" />
<line x1="367.70" y1="73.50" x2="369.30" y2="73.50" stroke="#222" stroke-width="0.8" />
<line x1="367.70" y1="54.50" x2="369.30" y2="54.50" stroke="#222" stroke-width="0.8" />
<line x1="367.70" y1="34.50" x2="369.30" y2="34.50" stroke="#222" stroke-width="0.8" />
<line x1="367.70" y1="14.50" x2="369.30" y2="14.50" stroke="#222" stroke-width="0.8" />
<line x1="369.30" y1="103.50" x2="518.60" y2="103.50" stroke="#222" stroke-width="1.0" />
<line x1="381.50" y1="103.50" x2="381.50" y2="106.80" stroke="#222" stroke-width="0.9" />
<line x1="406.50" y1="103.50" x2="406.50" y2="106.80" stroke="#222" stroke-width="0.9" />
<line x1="431.50" y1="103.50" x2="431.50" y2="106.80" stroke="#222" stroke-width="0.9" />
<line x1="456.50" y1="103.50" x2="456.50" y2="106.80" stroke="#222" stroke-width="0.9" />
<line x1="481.50" y1="103.50" x2="481.50" y2="106.80" stroke="#222" stroke-width="0.9" />
<line x1="506.50" y1="103.50" x2="506.50" y2="106.80" stroke="#222" stroke-width="0.9" />
<text transform="translate(347.2,55.2) rotate(-90)" font-size="8.3" text-anchor="middle" fill="#222" stroke="#222" stroke-width="0.22">% DN thymocytes</text>
<line x1="374.30" y1="96.50" x2="389.70" y2="96.50" stroke="#222" stroke-width="1.0" />
<line x1="398.80" y1="94.50" x2="414.70" y2="94.50" stroke="#222" stroke-width="1.0" />
<line x1="423.80" y1="97.50" x2="439.70" y2="97.50" stroke="#222" stroke-width="1.0" />
<line x1="448.50" y1="70.50" x2="464.60" y2="70.50" stroke="#222" stroke-width="1.0" />
<line x1="473.00" y1="67.50" x2="490.00" y2="67.50" stroke="#222" stroke-width="1.0" />
<line x1="498.40" y1="96.50" x2="514.70" y2="96.50" stroke="#222" stroke-width="1.0" />
<circle cx="378.40" cy="98.20" r="2.35" fill="#fff" stroke="#111" stroke-width="0.95"/>
<circle cx="386.10" cy="98.50" r="2.35" fill="#fff" stroke="#111" stroke-width="0.95"/>
<circle cx="380.80" cy="92.60" r="2.35" fill="#fff" stroke="#111" stroke-width="0.95"/>
<circle cx="383.50" cy="94.00" r="2.35" fill="#fff" stroke="#111" stroke-width="0.95"/>
<circle cx="382.30" cy="99.40" r="2.35" fill="#fff" stroke="#111" stroke-width="0.95"/>
<circle cx="380.00" cy="96.50" r="2.35" fill="#fff" stroke="#111" stroke-width="0.95"/>
<circle cx="407.00" cy="94.00" r="2.35" fill="#fff" stroke="#111" stroke-width="0.95"/>
<circle cx="431.80" cy="92.40" r="2.35" fill="#fff" stroke="#111" stroke-width="0.95"/>
<circle cx="431.80" cy="93.60" r="2.35" fill="#fff" stroke="#111" stroke-width="0.95"/>
<circle cx="429.90" cy="97.30" r="2.35" fill="#fff" stroke="#111" stroke-width="0.95"/>
<circle cx="427.20" cy="100.10" r="2.35" fill="#fff" stroke="#111" stroke-width="0.95"/>
<circle cx="431.50" cy="100.90" r="2.35" fill="#fff" stroke="#111" stroke-width="0.95"/>
<circle cx="434.40" cy="99.40" r="2.35" fill="#fff" stroke="#111" stroke-width="0.95"/>
<circle cx="436.80" cy="99.90" r="2.35" fill="#fff" stroke="#111" stroke-width="0.95"/>
<circle cx="432.50" cy="96.20" r="2.35" fill="#fff" stroke="#111" stroke-width="0.95"/>
<circle cx="456.50" cy="34.50" r="2.35" fill="#fff" stroke="#111" stroke-width="0.95"/>
<circle cx="456.50" cy="52.20" r="2.35" fill="#fff" stroke="#111" stroke-width="0.95"/>
<circle cx="460.50" cy="63.00" r="2.35" fill="#fff" stroke="#111" stroke-width="0.95"/>
<circle cx="456.60" cy="69.20" r="2.35" fill="#fff" stroke="#111" stroke-width="0.95"/>
<circle cx="453.10" cy="78.80" r="2.35" fill="#fff" stroke="#111" stroke-width="0.95"/>
<circle cx="456.90" cy="83.50" r="2.35" fill="#fff" stroke="#111" stroke-width="0.95"/>
<circle cx="460.80" cy="87.60" r="2.35" fill="#fff" stroke="#111" stroke-width="0.95"/>
<circle cx="456.90" cy="94.20" r="2.35" fill="#fff" stroke="#111" stroke-width="0.95"/>
<circle cx="481.50" cy="25.50" r="2.35" fill="#fff" stroke="#111" stroke-width="0.95"/>
<circle cx="481.50" cy="53.10" r="2.35" fill="#fff" stroke="#111" stroke-width="0.95"/>
<circle cx="481.20" cy="61.50" r="2.35" fill="#fff" stroke="#111" stroke-width="0.95"/>
<circle cx="485.40" cy="70.40" r="2.35" fill="#fff" stroke="#111" stroke-width="0.95"/>
<circle cx="477.70" cy="73.20" r="2.35" fill="#fff" stroke="#111" stroke-width="0.95"/>
<circle cx="481.50" cy="76.50" r="2.35" fill="#fff" stroke="#111" stroke-width="0.95"/>
<circle cx="485.40" cy="86.50" r="2.35" fill="#fff" stroke="#111" stroke-width="0.95"/>
<circle cx="481.50" cy="92.20" r="2.35" fill="#fff" stroke="#111" stroke-width="0.95"/>
<circle cx="506.10" cy="92.20" r="2.35" fill="#fff" stroke="#111" stroke-width="0.95"/>
<circle cx="505.60" cy="95.80" r="2.35" fill="#fff" stroke="#111" stroke-width="0.95"/>
<circle cx="502.50" cy="97.30" r="2.35" fill="#fff" stroke="#111" stroke-width="0.95"/>
<circle cx="510.40" cy="97.30" r="2.35" fill="#fff" stroke="#111" stroke-width="0.95"/>
<circle cx="506.30" cy="99.40" r="2.35" fill="#fff" stroke="#111" stroke-width="0.95"/>
<circle cx="508.20" cy="93.60" r="2.35" fill="#fff" stroke="#111" stroke-width="0.95"/>
<path d="M456.6,20.6 L456.6,18.3 L506.3,18.3 L506.3,20.6" fill="none" stroke="#333" stroke-width="0.8"/>
<text x="481.50" y="15.60" font-size="5.0" text-anchor="middle" font-weight="normal" fill="#333" >p&lt;0.01</text>
<text x="358.60" y="121.50" font-size="8.4" text-anchor="end" font-weight="normal" fill="#222" stroke="#222" stroke-width="0.22" >CD2-Lmo2:</text>
<text x="358.60" y="136.00" font-size="8.4" text-anchor="end" font-weight="normal" fill="#222" stroke="#222" stroke-width="0.22" >Lyl1:</text>
<text x="381.80" y="121.50" font-size="8.3" text-anchor="middle" font-weight="normal" fill="#222" stroke="#222" stroke-width="0.22" >wt</text>
<text x="381.80" y="136.00" font-size="7.6" text-anchor="middle" font-weight="normal" fill="#222" stroke="#222" stroke-width="0.22" >+/+</text>
<text x="406.80" y="121.50" font-size="8.3" text-anchor="middle" font-weight="normal" fill="#222" stroke="#222" stroke-width="0.22" >wt</text>
<text x="406.80" y="136.00" font-size="7.6" text-anchor="middle" font-weight="normal" fill="#222" stroke="#222" stroke-width="0.22" >+/-</text>
<text x="431.60" y="121.50" font-size="8.3" text-anchor="middle" font-weight="normal" fill="#222" stroke="#222" stroke-width="0.22" >wt</text>
<text x="431.60" y="136.00" font-size="7.6" text-anchor="middle" font-weight="normal" fill="#222" stroke="#222" stroke-width="0.22" >-/-</text>
<text x="456.60" y="121.50" font-size="8.3" text-anchor="middle" font-weight="normal" fill="#222" stroke="#222" stroke-width="0.22" >tg</text>
<text x="456.60" y="136.00" font-size="7.6" text-anchor="middle" font-weight="normal" fill="#222" stroke="#222" stroke-width="0.22" >+/+</text>
<text x="481.40" y="121.50" font-size="8.3" text-anchor="middle" font-weight="normal" fill="#222" stroke="#222" stroke-width="0.22" >tg</text>
<text x="481.40" y="136.00" font-size="7.6" text-anchor="middle" font-weight="normal" fill="#222" stroke="#222" stroke-width="0.22" >+/-</text>
<text x="506.30" y="121.50" font-size="8.3" text-anchor="middle" font-weight="normal" fill="#222" stroke="#222" stroke-width="0.22" >tg</text>
<text x="506.30" y="136.00" font-size="7.6" text-anchor="middle" font-weight="normal" fill="#222" stroke="#222" stroke-width="0.22" >-/-</text>
<line x1="370.50" y1="161.80" x2="370.50" y2="259.90" stroke="#222" stroke-width="1.0" />
<line x1="367.10" y1="259.50" x2="370.10" y2="259.50" stroke="#222" stroke-width="0.9" />
<text x="366.50" y="262.35" font-size="6.8" text-anchor="end" font-weight="normal" fill="#222" stroke="#222" stroke-width="0.3" >0</text>
<line x1="367.10" y1="243.50" x2="370.10" y2="243.50" stroke="#222" stroke-width="0.9" />
<text x="366.50" y="246.00" font-size="6.8" text-anchor="end" font-weight="normal" fill="#222" stroke="#222" stroke-width="0.3" >20</text>
<line x1="367.10" y1="227.50" x2="370.10" y2="227.50" stroke="#222" stroke-width="0.9" />
<text x="366.50" y="229.65" font-size="6.8" text-anchor="end" font-weight="normal" fill="#222" stroke="#222" stroke-width="0.3" >40</text>
<line x1="367.10" y1="210.50" x2="370.10" y2="210.50" stroke="#222" stroke-width="0.9" />
<text x="366.50" y="213.30" font-size="6.8" text-anchor="end" font-weight="normal" fill="#222" stroke="#222" stroke-width="0.3" >60</text>
<line x1="367.10" y1="194.50" x2="370.10" y2="194.50" stroke="#222" stroke-width="0.9" />
<text x="366.50" y="196.95" font-size="6.8" text-anchor="end" font-weight="normal" fill="#222" stroke="#222" stroke-width="0.3" >80</text>
<line x1="367.10" y1="178.50" x2="370.10" y2="178.50" stroke="#222" stroke-width="0.9" />
<text x="366.50" y="180.60" font-size="6.8" text-anchor="end" font-weight="normal" fill="#222" stroke="#222" stroke-width="0.3" >100</text>
<line x1="367.10" y1="161.50" x2="370.10" y2="161.50" stroke="#222" stroke-width="0.9" />
<text x="366.50" y="164.25" font-size="6.8" text-anchor="end" font-weight="normal" fill="#222" stroke="#222" stroke-width="0.3" >120</text>
<line x1="368.50" y1="251.50" x2="370.10" y2="251.50" stroke="#222" stroke-width="0.8" />
<line x1="368.50" y1="235.50" x2="370.10" y2="235.50" stroke="#222" stroke-width="0.8" />
<line x1="368.50" y1="219.50" x2="370.10" y2="219.50" stroke="#222" stroke-width="0.8" />
<line x1="368.50" y1="202.50" x2="370.10" y2="202.50" stroke="#222" stroke-width="0.8" />
<line x1="368.50" y1="186.50" x2="370.10" y2="186.50" stroke="#222" stroke-width="0.8" />
<line x1="368.50" y1="169.50" x2="370.10" y2="169.50" stroke="#222" stroke-width="0.8" />
<line x1="370.10" y1="259.50" x2="470.50" y2="259.50" stroke="#222" stroke-width="1.0" />
<text transform="translate(348.6,208.7) rotate(-90)" font-size="7.7" text-anchor="middle" fill="#222" stroke="#222" stroke-width="0.22">Thymocytes<tspan dx="4.5">(x10</tspan><tspan dy="-2.8" font-size="5">-6</tspan><tspan dy="2.8">)</tspan></text>
<line x1="383.50" y1="176.76" x2="383.50" y2="195.73" stroke="#222" stroke-width="0.9" />
<line x1="378.50" y1="176.50" x2="387.50" y2="176.50" stroke="#222" stroke-width="0.9" />
<rect x="374.50" y="256.22" width="17.0" height="3.68" fill="url(#hatch)" stroke="#262626" stroke-width="1.0"/>
<rect x="374.50" y="196.71" width="17.0" height="59.51" fill="#c4c4c4" stroke="#262626" stroke-width="1.0"/>
<rect x="374.50" y="186.98" width="17.0" height="9.73" fill="url(#stip)" stroke="#262626" stroke-width="1.0"/>
<rect x="374.50" y="184.61" width="17.0" height="2.37" fill="#fff" stroke="#262626" stroke-width="1.0"/>
<line x1="383.50" y1="184.61" x2="383.50" y2="195.73" stroke="#222" stroke-width="0.9" />
<line x1="383.50" y1="259.90" x2="383.50" y2="262.90" stroke="#222" stroke-width="0.9" />
<line x1="407.50" y1="220.99" x2="407.50" y2="232.51" stroke="#222" stroke-width="0.9" />
<line x1="403.20" y1="220.50" x2="412.20" y2="220.50" stroke="#222" stroke-width="0.9" />
<rect x="399.20" y="256.38" width="17.0" height="3.52" fill="url(#hatch)" stroke="#262626" stroke-width="1.0"/>
<rect x="399.20" y="232.27" width="17.0" height="24.12" fill="#c4c4c4" stroke="#262626" stroke-width="1.0"/>
<rect x="399.20" y="230.22" width="17.0" height="2.04" fill="url(#stip)" stroke="#262626" stroke-width="1.0"/>
<rect x="399.20" y="228.18" width="17.0" height="2.04" fill="#fff" stroke="#262626" stroke-width="1.0"/>
<line x1="407.50" y1="228.18" x2="407.50" y2="232.51" stroke="#222" stroke-width="0.9" />
<line x1="407.50" y1="259.90" x2="407.50" y2="262.90" stroke="#222" stroke-width="0.9" />
<line x1="432.50" y1="223.68" x2="432.50" y2="224.75" stroke="#222" stroke-width="0.9" />
<line x1="428.30" y1="223.50" x2="437.30" y2="223.50" stroke="#222" stroke-width="0.9" />
<rect x="424.30" y="256.30" width="17.0" height="3.60" fill="url(#hatch)" stroke="#262626" stroke-width="1.0"/>
<rect x="424.30" y="231.53" width="17.0" height="24.77" fill="#c4c4c4" stroke="#262626" stroke-width="1.0"/>
<rect x="424.30" y="227.28" width="17.0" height="4.25" fill="url(#stip)" stroke="#262626" stroke-width="1.0"/>
<rect x="424.30" y="224.18" width="17.0" height="3.11" fill="#fff" stroke="#262626" stroke-width="1.0"/>
<line x1="432.50" y1="224.18" x2="432.50" y2="224.75" stroke="#222" stroke-width="0.9" />
<line x1="432.50" y1="259.90" x2="432.50" y2="262.90" stroke="#222" stroke-width="0.9" />
<line x1="457.50" y1="180.60" x2="457.50" y2="199.24" stroke="#222" stroke-width="0.9" />
<line x1="453.10" y1="180.50" x2="462.10" y2="180.50" stroke="#222" stroke-width="0.9" />
<rect x="449.10" y="256.14" width="17.0" height="3.76" fill="url(#hatch)" stroke="#262626" stroke-width="1.0"/>
<rect x="449.10" y="199.24" width="17.0" height="56.90" fill="#c4c4c4" stroke="#262626" stroke-width="1.0"/>
<rect x="449.10" y="187.31" width="17.0" height="11.94" fill="url(#stip)" stroke="#262626" stroke-width="1.0"/>
<rect x="449.10" y="183.38" width="17.0" height="3.92" fill="#fff" stroke="#262626" stroke-width="1.0"/>
<line x1="457.50" y1="183.38" x2="457.50" y2="199.24" stroke="#222" stroke-width="0.9" />
<line x1="457.50" y1="259.90" x2="457.50" y2="262.90" stroke="#222" stroke-width="0.9" />
<rect x="483.8" y="159.80" width="11.7" height="6.4" fill="#fff" stroke="#333" stroke-width="0.9"/>
<text x="501.00" y="166.30" font-size="8" text-anchor="start" font-weight="normal" fill="#222" stroke="#222" stroke-width="0.22" >CD8</text>
<rect x="483.8" y="172.05" width="11.7" height="6.4" fill="url(#stip)" stroke="#333" stroke-width="0.9"/>
<text x="501.00" y="178.55" font-size="8" text-anchor="start" font-weight="normal" fill="#222" stroke="#222" stroke-width="0.22" >CD4</text>
<rect x="483.8" y="184.30" width="11.7" height="6.4" fill="#c4c4c4" stroke="#333" stroke-width="0.9"/>
<text x="501.00" y="190.80" font-size="8" text-anchor="start" font-weight="normal" fill="#222" stroke="#222" stroke-width="0.22" >DP</text>
<rect x="483.8" y="196.55" width="11.7" height="6.4" fill="url(#hatch)" stroke="#333" stroke-width="0.9"/>
<text x="501.00" y="203.05" font-size="8" text-anchor="start" font-weight="normal" fill="#222" stroke="#222" stroke-width="0.22" >DN</text>
<text x="358.60" y="276.20" font-size="8.4" text-anchor="end" font-weight="normal" fill="#222" stroke="#222" stroke-width="0.22" >CD2-Lmo2:</text>
<text x="358.60" y="290.80" font-size="8.4" text-anchor="end" font-weight="normal" fill="#222" stroke="#222" stroke-width="0.22" >Lyl1:</text>
<text x="382.40" y="276.20" font-size="8.3" text-anchor="middle" font-weight="normal" fill="#222" stroke="#222" stroke-width="0.22" >wt</text>
<text x="382.40" y="290.80" font-size="7.6" text-anchor="middle" font-weight="normal" fill="#222" stroke="#222" stroke-width="0.22" >+/+</text>
<text x="407.10" y="276.20" font-size="8.3" text-anchor="middle" font-weight="normal" fill="#222" stroke="#222" stroke-width="0.22" >tg</text>
<text x="407.10" y="290.80" font-size="7.6" text-anchor="middle" font-weight="normal" fill="#222" stroke="#222" stroke-width="0.22" >+/+</text>
<text x="432.20" y="276.20" font-size="8.3" text-anchor="middle" font-weight="normal" fill="#222" stroke="#222" stroke-width="0.22" >tg</text>
<text x="432.20" y="290.80" font-size="7.6" text-anchor="middle" font-weight="normal" fill="#222" stroke="#222" stroke-width="0.22" >+/-</text>
<text x="457.00" y="276.20" font-size="8.3" text-anchor="middle" font-weight="normal" fill="#222" stroke="#222" stroke-width="0.22" >tg</text>
<text x="457.00" y="290.80" font-size="7.6" text-anchor="middle" font-weight="normal" fill="#222" stroke="#222" stroke-width="0.22" >-/-</text>
<line x1="58.50" y1="332.20" x2="58.50" y2="430.80" stroke="#222" stroke-width="1.0" />
<line x1="55.00" y1="430.50" x2="58.00" y2="430.50" stroke="#222" stroke-width="0.9" />
<text x="54.40" y="433.36" font-size="7.1" text-anchor="end" font-weight="normal" fill="#222" stroke="#222" stroke-width="0.3" >0</text>
<line x1="55.00" y1="411.50" x2="58.00" y2="411.50" stroke="#222" stroke-width="0.9" />
<text x="54.40" y="413.64" font-size="7.1" text-anchor="end" font-weight="normal" fill="#222" stroke="#222" stroke-width="0.3" >20</text>
<line x1="55.00" y1="391.50" x2="58.00" y2="391.50" stroke="#222" stroke-width="0.9" />
<text x="54.40" y="393.92" font-size="7.1" text-anchor="end" font-weight="normal" fill="#222" stroke="#222" stroke-width="0.3" >40</text>
<line x1="55.00" y1="371.50" x2="58.00" y2="371.50" stroke="#222" stroke-width="0.9" />
<text x="54.40" y="374.20" font-size="7.1" text-anchor="end" font-weight="normal" fill="#222" stroke="#222" stroke-width="0.3" >60</text>
<line x1="55.00" y1="351.50" x2="58.00" y2="351.50" stroke="#222" stroke-width="0.9" />
<text x="54.40" y="354.48" font-size="7.1" text-anchor="end" font-weight="normal" fill="#222" stroke="#222" stroke-width="0.3" >80</text>
<line x1="55.00" y1="332.50" x2="58.00" y2="332.50" stroke="#222" stroke-width="0.9" />
<text x="54.40" y="334.76" font-size="7.1" text-anchor="end" font-weight="normal" fill="#222" stroke="#222" stroke-width="0.3" >100</text>
<line x1="56.40" y1="420.50" x2="58.00" y2="420.50" stroke="#222" stroke-width="0.8" />
<line x1="56.40" y1="401.50" x2="58.00" y2="401.50" stroke="#222" stroke-width="0.8" />
<line x1="56.40" y1="381.50" x2="58.00" y2="381.50" stroke="#222" stroke-width="0.8" />
<line x1="56.40" y1="361.50" x2="58.00" y2="361.50" stroke="#222" stroke-width="0.8" />
<line x1="56.40" y1="342.50" x2="58.00" y2="342.50" stroke="#222" stroke-width="0.8" />
<line x1="58.00" y1="431.50" x2="207.30" y2="431.50" stroke="#222" stroke-width="1.0" />
<line x1="83.50" y1="431.30" x2="83.50" y2="434.30" stroke="#222" stroke-width="0.9" />
<line x1="132.50" y1="431.30" x2="132.50" y2="434.30" stroke="#222" stroke-width="0.9" />
<line x1="182.50" y1="431.30" x2="182.50" y2="434.30" stroke="#222" stroke-width="0.9" />
<text transform="translate(32.5,380.8) rotate(-90)" font-size="8.8" text-anchor="middle" fill="#333" stroke="#333" stroke-width="0.22">% donor thymocytes</text>
<text x="83.10" y="442.60" font-size="6.6" text-anchor="middle" font-weight="normal" fill="#222" stroke="#222" stroke-width="0.22" >+/+</text>
<text x="132.50" y="442.60" font-size="6.6" text-anchor="middle" font-weight="normal" fill="#222" stroke="#222" stroke-width="0.22" >+/-</text>
<text x="182.50" y="442.60" font-size="6.6" text-anchor="middle" font-weight="normal" fill="#222" stroke="#222" stroke-width="0.22" >-/-</text>
<text x="106.10" y="455.10" font-size="8.5" text-anchor="start" font-weight="normal" fill="#333" stroke="#333" stroke-width="0.22" >Lyl1 genotype</text>
<line x1="66.40" y1="385.50" x2="99.60" y2="385.50" stroke="#444" stroke-width="1.0" />
<line x1="115.90" y1="418.50" x2="149.60" y2="418.50" stroke="#222" stroke-width="1.0" />
<line x1="165.20" y1="430.50" x2="198.50" y2="430.50" stroke="#222" stroke-width="1.2" />
<rect x="80.40" y="351.60" width="5.4" height="5.4" fill="#111"/>
<path d="M80.10,368.00 L83.10,362.80 L86.10,368.00 Z" fill="#111"/>
<path d="M88.90,365.20 L91.90,360.00 L94.90,365.20 Z" fill="#111"/>
<rect x="80.40" y="410.60" width="5.4" height="5.4" fill="#111"/>
<circle cx="83.10" cy="429.70" r="2.8" fill="#111" stroke="#111" stroke-width="0.6"/>
<circle cx="123.90" cy="395.50" r="2.8" fill="#111" stroke="#111" stroke-width="0.6"/>
<rect x="130.10" y="401.70" width="5.4" height="5.4" fill="#111"/>
<rect x="121.20" y="423.00" width="5.4" height="5.4" fill="#111"/>
<circle cx="137.30" cy="424.50" r="2.9" fill="#111" stroke="#111" stroke-width="0.9"/>
<circle cx="137.3" cy="424.5" r="3.3" fill="none" stroke="#fff" stroke-width="0.6"/>
<path d="M129.40,433.20 L132.40,428.00 L135.40,433.20 Z" fill="#111"/>
<path d="M138.60,432.10 L141.60,426.90 L144.60,432.10 Z" fill="#111"/>
<rect x="170.90" y="428.00" width="5.2" height="5.2" fill="#111"/>
<rect x="174.90" y="428.00" width="5.2" height="5.2" fill="#111"/>
<rect x="178.90" y="428.00" width="5.2" height="5.2" fill="#111"/>
<rect x="182.40" y="428.00" width="5.2" height="5.2" fill="#111"/>
<circle cx="188.50" cy="430.30" r="2.6" fill="#111" stroke="#111" stroke-width="0.5"/>
<path d="M189.30,432.34 L192.00,427.66 L194.70,432.34 Z" fill="#111"/>
<path d="M193.00,432.47 L195.50,428.13 L198.00,432.47 Z" fill="#111"/>
<path d="M82.1,334.3 L82.1,332.0 L130.7,332.0 L130.7,334.3" fill="none" stroke="#444" stroke-width="0.8"/>
<path d="M82.1,346.8 L82.1,344.5 L183.0,344.5 L183.0,346.8" fill="none" stroke="#444" stroke-width="0.8"/>
<text x="105.80" y="328.60" font-size="5.1" text-anchor="middle" font-weight="normal" fill="#333" >p=0.06</text>
<text x="131.80" y="341.30" font-size="5.1" text-anchor="middle" font-weight="normal" fill="#333" >p&lt;0.01</text>
<line x1="369.50" y1="332.90" x2="369.50" y2="432.20" stroke="#222" stroke-width="1.0" />
<line x1="366.50" y1="432.50" x2="369.50" y2="432.50" stroke="#222" stroke-width="0.9" />
<text x="365.90" y="434.76" font-size="7.1" text-anchor="end" font-weight="normal" fill="#222" stroke="#222" stroke-width="0.3" >0</text>
<line x1="366.50" y1="412.50" x2="369.50" y2="412.50" stroke="#222" stroke-width="0.9" />
<text x="365.90" y="414.90" font-size="7.1" text-anchor="end" font-weight="normal" fill="#222" stroke="#222" stroke-width="0.3" >20</text>
<line x1="366.50" y1="392.50" x2="369.50" y2="392.50" stroke="#222" stroke-width="0.9" />
<text x="365.90" y="395.04" font-size="7.1" text-anchor="end" font-weight="normal" fill="#222" stroke="#222" stroke-width="0.3" >40</text>
<line x1="366.50" y1="372.50" x2="369.50" y2="372.50" stroke="#222" stroke-width="0.9" />
<text x="365.90" y="375.18" font-size="7.1" text-anchor="end" font-weight="normal" fill="#222" stroke="#222" stroke-width="0.3" >60</text>
<line x1="366.50" y1="352.50" x2="369.50" y2="352.50" stroke="#222" stroke-width="0.9" />
<text x="365.90" y="355.32" font-size="7.1" text-anchor="end" font-weight="normal" fill="#222" stroke="#222" stroke-width="0.3" >80</text>
<line x1="366.50" y1="332.50" x2="369.50" y2="332.50" stroke="#222" stroke-width="0.9" />
<text x="365.90" y="335.46" font-size="7.1" text-anchor="end" font-weight="normal" fill="#222" stroke="#222" stroke-width="0.3" >100</text>
<line x1="367.90" y1="422.50" x2="369.50" y2="422.50" stroke="#222" stroke-width="0.8" />
<line x1="367.90" y1="402.50" x2="369.50" y2="402.50" stroke="#222" stroke-width="0.8" />
<line x1="367.90" y1="382.50" x2="369.50" y2="382.50" stroke="#222" stroke-width="0.8" />
<line x1="367.90" y1="362.50" x2="369.50" y2="362.50" stroke="#222" stroke-width="0.8" />
<line x1="367.90" y1="342.50" x2="369.50" y2="342.50" stroke="#222" stroke-width="0.8" />
<line x1="369.50" y1="432.50" x2="519.00" y2="432.50" stroke="#222" stroke-width="1.0" />
<text transform="translate(342.0,382.2) rotate(-90)" font-size="8.5" text-anchor="middle" fill="#333" stroke="#333" stroke-width="0.22">% YFP<tspan dy="-2.6" font-size="5">+</tspan><tspan dy="2.6"> cells</tspan></text>
<line x1="382.50" y1="339.30" x2="407.50" y2="336.30" stroke="#222" stroke-width="1.0" />
<line x1="382.50" y1="348.30" x2="407.50" y2="338.30" stroke="#222" stroke-width="1.0" />
<line x1="432.00" y1="335.00" x2="457.00" y2="429.30" stroke="#222" stroke-width="1.0" />
<line x1="432.00" y1="355.00" x2="457.00" y2="429.30" stroke="#222" stroke-width="1.0" />
<line x1="482.00" y1="333.30" x2="506.80" y2="338.30" stroke="#222" stroke-width="1.0" />
<line x1="482.00" y1="376.80" x2="506.80" y2="355.80" stroke="#222" stroke-width="1.0" />
<path d="M379.70,342.02 L382.50,337.18 L385.30,342.02 Z" fill="#111"/>
<path d="M379.70,351.02 L382.50,346.18 L385.30,351.02 Z" fill="#111"/>
<path d="M404.70,339.02 L407.50,334.18 L410.30,339.02 Z" fill="#111"/>
<path d="M404.70,341.02 L407.50,336.18 L410.30,341.02 Z" fill="#111"/>
<circle cx="432.00" cy="335.00" r="2.5" fill="#111" stroke="#111" stroke-width="0.5"/>
<circle cx="432.00" cy="355.00" r="2.5" fill="#111" stroke="#111" stroke-width="0.5"/>
<circle cx="457.00" cy="429.30" r="2.6" fill="#111" stroke="#111" stroke-width="0.5"/>
<circle cx="482.00" cy="333.30" r="2.5" fill="#fff" stroke="#111" stroke-width="0.95"/>
<circle cx="482.00" cy="376.80" r="2.5" fill="#fff" stroke="#111" stroke-width="0.95"/>
<circle cx="506.80" cy="338.30" r="2.5" fill="#fff" stroke="#111" stroke-width="0.95"/>
<circle cx="506.80" cy="355.80" r="2.5" fill="#fff" stroke="#111" stroke-width="0.95"/>
<text x="382.20" y="444.00" font-size="7.6" text-anchor="middle" font-weight="normal" fill="#222" stroke="#222" stroke-width="0.22" >Lin<tspan dy="-2.6" font-size="4.6">-</tspan><tspan dy="2.6">Kit</tspan><tspan dy="-2.6" font-size="4.6">+</tspan></text>
<text x="382.20" y="452.60" font-size="7.6" text-anchor="middle" font-weight="normal" fill="#333" stroke="#333" stroke-width="0.22" >BM</text>
<text x="432.40" y="444.00" font-size="7.6" text-anchor="middle" font-weight="normal" fill="#222" stroke="#222" stroke-width="0.22" >Lin<tspan dy="-2.6" font-size="4.6">-</tspan><tspan dy="2.6">Kit</tspan><tspan dy="-2.6" font-size="4.6">+</tspan></text>
<text x="432.40" y="452.60" font-size="7.6" text-anchor="middle" font-weight="normal" fill="#333" stroke="#333" stroke-width="0.22" >BM</text>
<text x="482.20" y="444.00" font-size="7.6" text-anchor="middle" font-weight="normal" fill="#222" stroke="#222" stroke-width="0.22" >Lin<tspan dy="-2.6" font-size="4.6">-</tspan><tspan dy="2.6">Kit</tspan><tspan dy="-2.6" font-size="4.6">+</tspan></text>
<text x="482.20" y="452.60" font-size="7.6" text-anchor="middle" font-weight="normal" fill="#333" stroke="#333" stroke-width="0.22" >BM</text>
<text x="407.50" y="444.00" font-size="7.6" text-anchor="middle" font-weight="normal" fill="#222" stroke="#222" stroke-width="0.22" >THY</text>
<text x="456.80" y="444.00" font-size="7.6" text-anchor="middle" font-weight="normal" fill="#222" stroke="#222" stroke-width="0.22" >THY</text>
<text x="507.50" y="444.00" font-size="7.6" text-anchor="middle" font-weight="normal" fill="#222" stroke="#222" stroke-width="0.22" >THY</text>
<line x1="369.70" y1="460.50" x2="417.40" y2="460.50" stroke="#333" stroke-width="0.9" />
<line x1="369.50" y1="457.30" x2="369.50" y2="462.80" stroke="#333" stroke-width="0.9" />
<line x1="417.50" y1="457.30" x2="417.50" y2="462.80" stroke="#333" stroke-width="0.9" />
<line x1="420.10" y1="460.50" x2="467.50" y2="460.50" stroke="#333" stroke-width="0.9" />
<line x1="420.50" y1="457.30" x2="420.50" y2="462.80" stroke="#333" stroke-width="0.9" />
<line x1="467.50" y1="457.30" x2="467.50" y2="462.80" stroke="#333" stroke-width="0.9" />
<line x1="470.30" y1="460.50" x2="515.00" y2="460.50" stroke="#333" stroke-width="0.9" />
<line x1="470.50" y1="457.30" x2="470.50" y2="462.80" stroke="#333" stroke-width="0.9" />
<line x1="515.50" y1="457.30" x2="515.50" y2="462.80" stroke="#333" stroke-width="0.9" />
<text x="365.30" y="475.60" font-size="8.4" text-anchor="end" font-weight="normal" fill="#222" stroke="#222" stroke-width="0.22" >CD2-Lmo2:</text>
<text x="365.30" y="487.70" font-size="8.4" text-anchor="end" font-weight="normal" fill="#222" stroke="#222" stroke-width="0.22" >Lyl1:</text>
<text x="397.00" y="475.60" font-size="8.3" text-anchor="middle" font-weight="normal" fill="#222" stroke="#222" stroke-width="0.22" >wt</text>
<text x="397.00" y="487.70" font-size="7.6" text-anchor="middle" font-weight="normal" fill="#222" stroke="#222" stroke-width="0.22" >+/+</text>
<text x="442.80" y="475.60" font-size="8.3" text-anchor="middle" font-weight="normal" fill="#222" stroke="#222" stroke-width="0.22" >tg</text>
<text x="442.80" y="487.70" font-size="7.6" text-anchor="middle" font-weight="normal" fill="#222" stroke="#222" stroke-width="0.22" >+/-</text>
<text x="492.90" y="475.60" font-size="8.3" text-anchor="middle" font-weight="normal" fill="#222" stroke="#222" stroke-width="0.22" >tg</text>
<text x="492.90" y="487.70" font-size="7.6" text-anchor="middle" font-weight="normal" fill="#222" stroke="#222" stroke-width="0.22" >-/-</text>
<rect x="428.3" y="222.7" width="9" height="1.9" fill="#222"/>
</svg>
</body></html>
